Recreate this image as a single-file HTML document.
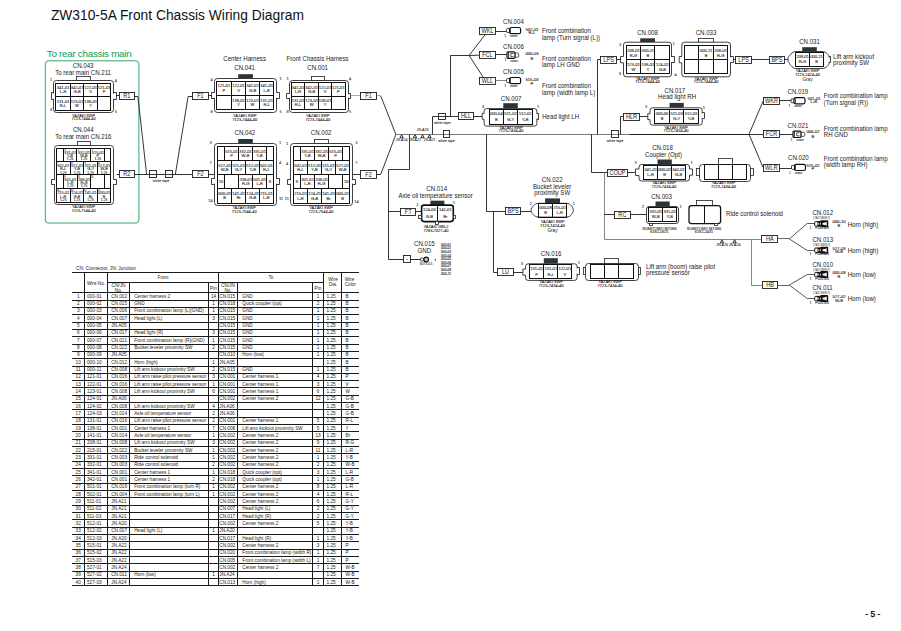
<!DOCTYPE html><html><head><meta charset="utf-8"><style>html,body{margin:0;padding:0;background:#fff;}svg{display:block;}</style></head><body>
<svg width="901" height="631" viewBox="0 0 901 631" font-family='"Liberation Sans", sans-serif'>
<rect width="901" height="631" fill="#fff"/>
<text x="50.90" y="19.90" font-size="13.8" text-anchor="start" fill="#111" >ZW310-5A Front Chassis Wiring Diagram</text>
<text x="46.80" y="57.00" font-size="9.9" text-anchor="start" fill="#109a56" letter-spacing="-0.3">To rear chassis main</text>
<rect x="45.3" y="60.8" width="93.6" height="162.2" rx="3" fill="none" stroke="#3aa56a" stroke-width="1"/>
<text x="83.10" y="67.70" font-size="6.83" text-anchor="middle" fill="#1a1a1a"  textLength="20.68" lengthAdjust="spacingAndGlyphs">CN.043</text>
<text x="83.10" y="74.70" font-size="6.83" text-anchor="middle" fill="#1a1a1a"  textLength="55.82" lengthAdjust="spacingAndGlyphs">To rear main CN.211</text>
<rect x="76.50" y="76.50" width="14.00" height="4.00" rx="0" fill="#fff" stroke="#222" stroke-width="0.8"/>
<rect x="53.50" y="80.50" width="60.00" height="32.00" rx="3" fill="#fff" stroke="#2a2a2a" stroke-width="0.9"/>
<rect x="52.80" y="93.60" width="1.80" height="5.20" fill="#fff"/>
<polyline points="53.70,92.50 51.50,92.50 51.50,99.50 53.70,99.50" fill="none" stroke="#2a2a2a" stroke-width="0.9"/>
<rect x="112.60" y="93.60" width="1.80" height="5.20" fill="#fff"/>
<polyline points="113.50,92.50 116.50,92.50 116.50,99.50 113.50,99.50" fill="none" stroke="#2a2a2a" stroke-width="0.9"/>
<rect x="55.50" y="83.50" width="55.00" height="27.00" fill="none" stroke="#111" stroke-width="1.0"/>
<line x1="70.50" y1="83.20" x2="70.50" y2="96.30" stroke="#111" stroke-width="1.0"/>
<line x1="83.50" y1="83.20" x2="83.50" y2="96.30" stroke="#111" stroke-width="1.0"/>
<line x1="97.50" y1="83.20" x2="97.50" y2="96.30" stroke="#111" stroke-width="1.0"/>
<line x1="55.50" y1="96.50" x2="110.50" y2="96.50" stroke="#111" stroke-width="1.0"/>
<line x1="70.50" y1="96.30" x2="70.50" y2="110.20" stroke="#111" stroke-width="1.0"/>
<line x1="83.50" y1="96.30" x2="83.50" y2="110.20" stroke="#111" stroke-width="1.0"/>
<line x1="97.50" y1="96.30" x2="97.50" y2="110.20" stroke="#111" stroke-width="1.0"/>
<text x="63.10" y="89.09" font-size="4.1" text-anchor="middle" fill="#1c1818" stroke="#1c1818" stroke-width="0.082" >341-01</text>
<text x="63.10" y="92.84" font-size="4.1" text-anchor="middle" fill="#1c1818" stroke="#1c1818" stroke-width="0.082" >L-R</text>
<text x="77.05" y="89.09" font-size="4.1" text-anchor="middle" fill="#1c1818" stroke="#1c1818" stroke-width="0.082" >342-01</text>
<text x="77.05" y="92.84" font-size="4.1" text-anchor="middle" fill="#1c1818" stroke="#1c1818" stroke-width="0.082" >G-B</text>
<text x="90.70" y="89.09" font-size="4.1" text-anchor="middle" fill="#1c1818" stroke="#1c1818" stroke-width="0.082" >122-01</text>
<text x="90.70" y="92.84" font-size="4.1" text-anchor="middle" fill="#1c1818" stroke="#1c1818" stroke-width="0.082" >V</text>
<text x="104.15" y="89.09" font-size="4.1" text-anchor="middle" fill="#1c1818" stroke="#1c1818" stroke-width="0.082" >121-01</text>
<text x="104.15" y="92.84" font-size="4.1" text-anchor="middle" fill="#1c1818" stroke="#1c1818" stroke-width="0.082" >P</text>
<text x="63.10" y="102.56" font-size="4.1" text-anchor="middle" fill="#1c1818" stroke="#1c1818" stroke-width="0.082" >131-01</text>
<text x="63.10" y="106.53" font-size="4.1" text-anchor="middle" fill="#1c1818" stroke="#1c1818" stroke-width="0.082" >R-L</text>
<text x="77.05" y="102.56" font-size="4.1" text-anchor="middle" fill="#1c1818" stroke="#1c1818" stroke-width="0.082" >123-01</text>
<text x="77.05" y="106.53" font-size="4.1" text-anchor="middle" fill="#1c1818" stroke="#1c1818" stroke-width="0.082" >W</text>
<text x="90.70" y="102.56" font-size="4.1" text-anchor="middle" fill="#1c1818" stroke="#1c1818" stroke-width="0.082" >138-01</text>
<text x="90.70" y="106.53" font-size="4.1" text-anchor="middle" fill="#1c1818" stroke="#1c1818" stroke-width="0.082" >Y</text>
<text x="51.00" y="81.00" font-size="4.0" text-anchor="middle" fill="#2a2a4a" stroke="#2a2a4a" stroke-width="0.080" >1</text>
<text x="115.80" y="81.50" font-size="4.0" text-anchor="middle" fill="#2a2a4a" stroke="#2a2a4a" stroke-width="0.080" >4</text>
<text x="51.00" y="111.00" font-size="4.0" text-anchor="middle" fill="#2a2a4a" stroke="#2a2a4a" stroke-width="0.080" >8</text>
<text x="115.80" y="112.50" font-size="4.0" text-anchor="middle" fill="#2a2a4a" stroke="#2a2a4a" stroke-width="0.080" >5</text>
<text x="83.50" y="116.80" font-size="3.8880000000000003" text-anchor="middle" fill="#1e1414" stroke="#1e1414" stroke-width="0.078" >YAZAKI  8WP</text>
<text x="83.50" y="120.20" font-size="3.8880000000000003" text-anchor="middle" fill="#1e1414" stroke="#1e1414" stroke-width="0.078" >7223-7444-40</text>
<text x="83.30" y="131.70" font-size="6.83" text-anchor="middle" fill="#1a1a1a"  textLength="20.68" lengthAdjust="spacingAndGlyphs">CN.044</text>
<text x="83.30" y="138.70" font-size="6.83" text-anchor="middle" fill="#1a1a1a"  textLength="56.28" lengthAdjust="spacingAndGlyphs">To rear main CN.216</text>
<rect x="77.50" y="141.50" width="13.00" height="4.00" rx="0" fill="#fff" stroke="#222" stroke-width="0.8"/>
<rect x="54.50" y="145.50" width="59.00" height="59.00" rx="3" fill="#fff" stroke="#2a2a2a" stroke-width="0.9"/>
<rect x="53.30" y="179.80" width="1.80" height="4.30" fill="#fff"/>
<polyline points="54.20,179.50 51.50,179.50 51.50,184.50 54.20,184.50" fill="none" stroke="#2a2a2a" stroke-width="0.9"/>
<rect x="112.90" y="179.80" width="1.80" height="4.30" fill="#fff"/>
<polyline points="113.80,179.50 116.50,179.50 116.50,184.50 113.80,184.50" fill="none" stroke="#2a2a2a" stroke-width="0.9"/>
<rect x="56.50" y="148.50" width="54.00" height="54.00" fill="none" stroke="#111" stroke-width="1.0"/>
<line x1="63.50" y1="148.00" x2="63.50" y2="161.20" stroke="#111" stroke-width="1.0"/>
<line x1="76.50" y1="148.00" x2="76.50" y2="161.20" stroke="#111" stroke-width="1.0"/>
<line x1="90.50" y1="148.00" x2="90.50" y2="161.20" stroke="#111" stroke-width="1.0"/>
<line x1="104.50" y1="148.00" x2="104.50" y2="161.20" stroke="#111" stroke-width="1.0"/>
<line x1="56.50" y1="161.50" x2="110.50" y2="161.50" stroke="#111" stroke-width="1.0"/>
<line x1="70.50" y1="161.20" x2="70.50" y2="174.70" stroke="#111" stroke-width="1.0"/>
<line x1="83.50" y1="161.20" x2="83.50" y2="174.70" stroke="#111" stroke-width="1.0"/>
<line x1="97.50" y1="161.20" x2="97.50" y2="174.70" stroke="#111" stroke-width="1.0"/>
<line x1="56.50" y1="174.50" x2="110.50" y2="174.50" stroke="#111" stroke-width="1.0"/>
<line x1="63.50" y1="174.70" x2="63.50" y2="188.30" stroke="#111" stroke-width="1.0"/>
<line x1="77.50" y1="174.70" x2="77.50" y2="188.30" stroke="#111" stroke-width="1.0"/>
<line x1="90.50" y1="174.70" x2="90.50" y2="188.30" stroke="#111" stroke-width="1.0"/>
<line x1="104.50" y1="174.70" x2="104.50" y2="188.30" stroke="#111" stroke-width="1.0"/>
<line x1="56.50" y1="188.50" x2="110.50" y2="188.50" stroke="#111" stroke-width="1.0"/>
<line x1="70.50" y1="188.30" x2="70.50" y2="202.00" stroke="#111" stroke-width="1.0"/>
<line x1="83.50" y1="188.30" x2="83.50" y2="202.00" stroke="#111" stroke-width="1.0"/>
<line x1="97.50" y1="188.30" x2="97.50" y2="202.00" stroke="#111" stroke-width="1.0"/>
<text x="64.90" y="150.90" font-size="2.6" text-anchor="middle" fill="#2a2a4a" stroke="#2a2a4a" stroke-width="0.052" >3</text>
<text x="70.15" y="154.00" font-size="3.9" text-anchor="middle" fill="#1c1818" stroke="#1c1818" stroke-width="0.078" >331-01</text>
<text x="70.15" y="157.20" font-size="3.9" text-anchor="middle" fill="#1c1818" stroke="#1c1818" stroke-width="0.078" >Y-B</text>
<text x="70.15" y="160.40" font-size="3.4" text-anchor="middle" fill="#1c1818" stroke="#1c1818" stroke-width="0.068" >1.25</text>
<text x="78.60" y="150.90" font-size="2.6" text-anchor="middle" fill="#2a2a4a" stroke="#2a2a4a" stroke-width="0.052" >2</text>
<text x="83.90" y="154.00" font-size="3.9" text-anchor="middle" fill="#1c1818" stroke="#1c1818" stroke-width="0.078" >332-01</text>
<text x="83.90" y="157.20" font-size="3.9" text-anchor="middle" fill="#1c1818" stroke="#1c1818" stroke-width="0.078" >W-B</text>
<text x="83.90" y="160.40" font-size="3.4" text-anchor="middle" fill="#1c1818" stroke="#1c1818" stroke-width="0.068" >1.25</text>
<text x="92.40" y="150.90" font-size="2.6" text-anchor="middle" fill="#2a2a4a" stroke="#2a2a4a" stroke-width="0.052" >1</text>
<text x="97.90" y="154.00" font-size="3.9" text-anchor="middle" fill="#1c1818" stroke="#1c1818" stroke-width="0.078" >515-01</text>
<text x="97.90" y="157.20" font-size="3.9" text-anchor="middle" fill="#1c1818" stroke="#1c1818" stroke-width="0.078" >P</text>
<text x="97.90" y="160.40" font-size="3.4" text-anchor="middle" fill="#1c1818" stroke="#1c1818" stroke-width="0.068" >1.25</text>
<text x="57.80" y="164.10" font-size="2.6" text-anchor="middle" fill="#2a2a4a" stroke="#2a2a4a" stroke-width="0.052" >7</text>
<text x="63.25" y="167.20" font-size="3.9" text-anchor="middle" fill="#1c1818" stroke="#1c1818" stroke-width="0.078" >502-01</text>
<text x="63.25" y="170.40" font-size="3.9" text-anchor="middle" fill="#1c1818" stroke="#1c1818" stroke-width="0.078" >R-L</text>
<text x="63.25" y="173.60" font-size="3.4" text-anchor="middle" fill="#1c1818" stroke="#1c1818" stroke-width="0.068" >1.25</text>
<text x="71.90" y="164.10" font-size="2.6" text-anchor="middle" fill="#2a2a4a" stroke="#2a2a4a" stroke-width="0.052" >6</text>
<text x="77.00" y="167.20" font-size="3.9" text-anchor="middle" fill="#1c1818" stroke="#1c1818" stroke-width="0.078" >512-01</text>
<text x="77.00" y="170.40" font-size="3.9" text-anchor="middle" fill="#1c1818" stroke="#1c1818" stroke-width="0.078" >Y-B</text>
<text x="77.00" y="173.60" font-size="3.4" text-anchor="middle" fill="#1c1818" stroke="#1c1818" stroke-width="0.068" >1.25</text>
<text x="85.30" y="164.10" font-size="2.6" text-anchor="middle" fill="#2a2a4a" stroke="#2a2a4a" stroke-width="0.052" >5</text>
<text x="90.60" y="167.20" font-size="3.9" text-anchor="middle" fill="#1c1818" stroke="#1c1818" stroke-width="0.078" >511-01</text>
<text x="90.60" y="170.40" font-size="3.9" text-anchor="middle" fill="#1c1818" stroke="#1c1818" stroke-width="0.078" >G-Y</text>
<text x="90.60" y="173.60" font-size="3.4" text-anchor="middle" fill="#1c1818" stroke="#1c1818" stroke-width="0.068" >1.25</text>
<text x="99.10" y="164.10" font-size="2.6" text-anchor="middle" fill="#2a2a4a" stroke="#2a2a4a" stroke-width="0.052" >4</text>
<text x="104.15" y="167.20" font-size="3.9" text-anchor="middle" fill="#1c1818" stroke="#1c1818" stroke-width="0.078" >527-01</text>
<text x="104.15" y="170.40" font-size="3.9" text-anchor="middle" fill="#1c1818" stroke="#1c1818" stroke-width="0.078" >W-B</text>
<text x="104.15" y="173.60" font-size="3.4" text-anchor="middle" fill="#1c1818" stroke="#1c1818" stroke-width="0.068" >1.25</text>
<text x="64.90" y="177.60" font-size="2.6" text-anchor="middle" fill="#2a2a4a" stroke="#2a2a4a" stroke-width="0.052" >9</text>
<text x="70.40" y="180.70" font-size="3.9" text-anchor="middle" fill="#1c1818" stroke="#1c1818" stroke-width="0.078" >501-01</text>
<text x="70.40" y="183.90" font-size="3.9" text-anchor="middle" fill="#1c1818" stroke="#1c1818" stroke-width="0.078" >L-R</text>
<text x="70.40" y="187.10" font-size="3.4" text-anchor="middle" fill="#1c1818" stroke="#1c1818" stroke-width="0.068" >1.25</text>
<text x="79.10" y="177.60" font-size="2.6" text-anchor="middle" fill="#2a2a4a" stroke="#2a2a4a" stroke-width="0.052" >8</text>
<text x="84.00" y="180.70" font-size="3.9" text-anchor="middle" fill="#1c1818" stroke="#1c1818" stroke-width="0.078" >208-01</text>
<text x="84.00" y="183.90" font-size="3.9" text-anchor="middle" fill="#1c1818" stroke="#1c1818" stroke-width="0.078" >R-G</text>
<text x="84.00" y="187.10" font-size="3.4" text-anchor="middle" fill="#1c1818" stroke="#1c1818" stroke-width="0.068" >1.25</text>
<text x="92.10" y="177.60" font-size="2.6" text-anchor="middle" fill="#2a2a4a" stroke="#2a2a4a" stroke-width="0.052" >10</text>
<text x="57.80" y="191.20" font-size="2.6" text-anchor="middle" fill="#2a2a4a" stroke="#2a2a4a" stroke-width="0.052" >14</text>
<text x="63.25" y="194.30" font-size="3.9" text-anchor="middle" fill="#1c1818" stroke="#1c1818" stroke-width="0.078" >215-01</text>
<text x="63.25" y="197.50" font-size="3.9" text-anchor="middle" fill="#1c1818" stroke="#1c1818" stroke-width="0.078" >L-R</text>
<text x="63.25" y="200.70" font-size="3.4" text-anchor="middle" fill="#1c1818" stroke="#1c1818" stroke-width="0.068" >1.25</text>
<text x="71.90" y="191.20" font-size="2.6" text-anchor="middle" fill="#2a2a4a" stroke="#2a2a4a" stroke-width="0.052" >13</text>
<text x="77.00" y="194.30" font-size="3.9" text-anchor="middle" fill="#1c1818" stroke="#1c1818" stroke-width="0.078" >124-01</text>
<text x="77.00" y="197.50" font-size="3.9" text-anchor="middle" fill="#1c1818" stroke="#1c1818" stroke-width="0.078" >G-B</text>
<text x="77.00" y="200.70" font-size="3.4" text-anchor="middle" fill="#1c1818" stroke="#1c1818" stroke-width="0.068" >1.25</text>
<text x="85.30" y="191.20" font-size="2.6" text-anchor="middle" fill="#2a2a4a" stroke="#2a2a4a" stroke-width="0.052" >12</text>
<text x="90.60" y="194.30" font-size="3.9" text-anchor="middle" fill="#1c1818" stroke="#1c1818" stroke-width="0.078" >141-01</text>
<text x="90.60" y="197.50" font-size="3.9" text-anchor="middle" fill="#1c1818" stroke="#1c1818" stroke-width="0.078" >Br</text>
<text x="90.60" y="200.70" font-size="3.4" text-anchor="middle" fill="#1c1818" stroke="#1c1818" stroke-width="0.068" >1.25</text>
<text x="99.10" y="191.20" font-size="2.6" text-anchor="middle" fill="#2a2a4a" stroke="#2a2a4a" stroke-width="0.052" >11</text>
<text x="104.15" y="194.30" font-size="3.9" text-anchor="middle" fill="#1c1818" stroke="#1c1818" stroke-width="0.078" >000-01</text>
<text x="104.15" y="197.50" font-size="3.9" text-anchor="middle" fill="#1c1818" stroke="#1c1818" stroke-width="0.078" >B</text>
<text x="104.15" y="200.70" font-size="3.4" text-anchor="middle" fill="#1c1818" stroke="#1c1818" stroke-width="0.068" >1.25</text>
<text x="83.50" y="208.30" font-size="3.8880000000000003" text-anchor="middle" fill="#1e1414" stroke="#1e1414" stroke-width="0.078" >YAZAKI  8WP</text>
<text x="83.50" y="211.90" font-size="3.8880000000000003" text-anchor="middle" fill="#1e1414" stroke="#1e1414" stroke-width="0.078" >7223-7544-40</text>
<line x1="116.00" y1="95.50" x2="119.10" y2="95.50" stroke="#1e1e1e" stroke-width="0.9"/>
<rect x="119.50" y="92.50" width="15.00" height="7.00" rx="0" fill="#fff" stroke="#1e1e1e" stroke-width="0.9"/>
<text x="126.75" y="97.92" font-size="6.27" text-anchor="middle" fill="#1a1a1a"  textLength="7.16" lengthAdjust="spacingAndGlyphs">R1</text>
<polyline points="134.40,96.50 137.90,96.50 146.60,174.20" fill="none" stroke="#1e1e1e" stroke-width="0.9"/>
<line x1="116.70" y1="174.50" x2="119.10" y2="174.50" stroke="#1e1e1e" stroke-width="0.9"/>
<rect x="119.50" y="170.50" width="15.00" height="7.00" rx="0" fill="#fff" stroke="#1e1e1e" stroke-width="0.9"/>
<text x="126.75" y="176.22" font-size="6.27" text-anchor="middle" fill="#1a1a1a"  textLength="7.16" lengthAdjust="spacingAndGlyphs">R2</text>
<line x1="134.40" y1="174.50" x2="192.30" y2="174.50" stroke="#1e1e1e" stroke-width="0.9"/>
<rect x="149.50" y="170.50" width="7.00" height="7.00" rx="0" fill="none" stroke="#1e1e1e" stroke-width="0.9"/>
<rect x="165.50" y="170.50" width="7.00" height="7.00" rx="0" fill="none" stroke="#1e1e1e" stroke-width="0.9"/>
<text x="161.00" y="182.20" font-size="3.6" text-anchor="middle" fill="#222" stroke="#222" stroke-width="0.072" >white tape</text>
<polyline points="175.40,174.20 188.10,96.50 192.30,96.50" fill="none" stroke="#1e1e1e" stroke-width="0.9"/>
<rect x="192.50" y="92.50" width="16.00" height="7.00" rx="0" fill="#fff" stroke="#1e1e1e" stroke-width="0.9"/>
<text x="200.40" y="97.92" font-size="6.27" text-anchor="middle" fill="#1a1a1a"  textLength="6.53" lengthAdjust="spacingAndGlyphs">F1</text>
<rect x="192.50" y="170.50" width="16.00" height="7.00" rx="0" fill="#fff" stroke="#1e1e1e" stroke-width="0.9"/>
<text x="200.40" y="176.22" font-size="6.27" text-anchor="middle" fill="#1a1a1a"  textLength="6.53" lengthAdjust="spacingAndGlyphs">F2</text>
<line x1="208.50" y1="95.50" x2="211.70" y2="95.50" stroke="#1e1e1e" stroke-width="0.9"/>
<line x1="208.50" y1="174.50" x2="214.30" y2="174.50" stroke="#1e1e1e" stroke-width="0.9"/>
<text x="244.60" y="60.80" font-size="6.83" text-anchor="middle" fill="#1a1a1a"  textLength="42.72" lengthAdjust="spacingAndGlyphs">Center Harness</text>
<text x="244.60" y="69.80" font-size="6.83" text-anchor="middle" fill="#1a1a1a"  textLength="20.68" lengthAdjust="spacingAndGlyphs">CN.041</text>
<rect x="238.20" y="74.20" width="14.70" height="4.10" fill="#2b3535"/>
<rect x="214.50" y="78.50" width="62.00" height="34.00" rx="3" fill="#fff" stroke="#2a2a2a" stroke-width="0.9"/>
<rect x="213.20" y="92.80" width="1.80" height="5.00" fill="#fff"/>
<polyline points="214.10,92.50 211.50,92.50 211.50,98.50 214.10,98.50" fill="none" stroke="#2a2a2a" stroke-width="0.9"/>
<rect x="276.00" y="92.80" width="1.80" height="5.00" fill="#fff"/>
<polyline points="276.90,92.50 279.50,92.50 279.50,98.50 276.90,98.50" fill="none" stroke="#2a2a2a" stroke-width="0.9"/>
<rect x="216.50" y="81.50" width="57.00" height="28.00" fill="none" stroke="#111" stroke-width="1.0"/>
<line x1="231.50" y1="81.10" x2="231.50" y2="95.30" stroke="#111" stroke-width="1.0"/>
<line x1="245.50" y1="81.10" x2="245.50" y2="95.30" stroke="#111" stroke-width="1.0"/>
<line x1="259.50" y1="81.10" x2="259.50" y2="95.30" stroke="#111" stroke-width="1.0"/>
<line x1="216.50" y1="95.50" x2="273.50" y2="95.50" stroke="#111" stroke-width="1.0"/>
<line x1="231.50" y1="95.30" x2="231.50" y2="109.50" stroke="#111" stroke-width="1.0"/>
<line x1="245.50" y1="95.30" x2="245.50" y2="109.50" stroke="#111" stroke-width="1.0"/>
<line x1="259.50" y1="95.30" x2="259.50" y2="109.50" stroke="#111" stroke-width="1.0"/>
<text x="223.80" y="87.49" font-size="4.1" text-anchor="middle" fill="#1c1818" stroke="#1c1818" stroke-width="0.082" >121-01</text>
<text x="223.80" y="91.55" font-size="4.1" text-anchor="middle" fill="#1c1818" stroke="#1c1818" stroke-width="0.082" >P</text>
<text x="238.50" y="87.49" font-size="4.1" text-anchor="middle" fill="#1c1818" stroke="#1c1818" stroke-width="0.082" >122-01</text>
<text x="238.50" y="91.55" font-size="4.1" text-anchor="middle" fill="#1c1818" stroke="#1c1818" stroke-width="0.082" >V</text>
<text x="252.55" y="87.49" font-size="4.1" text-anchor="middle" fill="#1c1818" stroke="#1c1818" stroke-width="0.082" >342-01</text>
<text x="252.55" y="91.55" font-size="4.1" text-anchor="middle" fill="#1c1818" stroke="#1c1818" stroke-width="0.082" >G-B</text>
<text x="266.70" y="87.49" font-size="4.1" text-anchor="middle" fill="#1c1818" stroke="#1c1818" stroke-width="0.082" >341-01</text>
<text x="266.70" y="91.55" font-size="4.1" text-anchor="middle" fill="#1c1818" stroke="#1c1818" stroke-width="0.082" >L-R</text>
<text x="238.50" y="101.69" font-size="4.1" text-anchor="middle" fill="#1c1818" stroke="#1c1818" stroke-width="0.082" >138-01</text>
<text x="238.50" y="105.75" font-size="4.1" text-anchor="middle" fill="#1c1818" stroke="#1c1818" stroke-width="0.082" >Y</text>
<text x="252.55" y="101.69" font-size="4.1" text-anchor="middle" fill="#1c1818" stroke="#1c1818" stroke-width="0.082" >123-01</text>
<text x="252.55" y="105.75" font-size="4.1" text-anchor="middle" fill="#1c1818" stroke="#1c1818" stroke-width="0.082" >W</text>
<text x="266.70" y="101.69" font-size="4.1" text-anchor="middle" fill="#1c1818" stroke="#1c1818" stroke-width="0.082" >131-01</text>
<text x="266.70" y="105.75" font-size="4.1" text-anchor="middle" fill="#1c1818" stroke="#1c1818" stroke-width="0.082" >R-L</text>
<text x="211.50" y="80.50" font-size="4.0" text-anchor="middle" fill="#2a2a4a" stroke="#2a2a4a" stroke-width="0.080" >4</text>
<text x="280.50" y="79.50" font-size="4.0" text-anchor="middle" fill="#2a2a4a" stroke="#2a2a4a" stroke-width="0.080" >1</text>
<text x="211.50" y="112.50" font-size="4.0" text-anchor="middle" fill="#2a2a4a" stroke="#2a2a4a" stroke-width="0.080" >8</text>
<text x="280.50" y="112.50" font-size="4.0" text-anchor="middle" fill="#2a2a4a" stroke="#2a2a4a" stroke-width="0.080" >5</text>
<text x="244.80" y="117.40" font-size="3.9960000000000004" text-anchor="middle" fill="#1e1414" stroke="#1e1414" stroke-width="0.080" >YAZAKI  8WP</text>
<text x="244.80" y="121.20" font-size="3.9960000000000004" text-anchor="middle" fill="#1e1414" stroke="#1e1414" stroke-width="0.080" >7123-7444-40</text>
<text x="317.60" y="60.80" font-size="6.83" text-anchor="middle" fill="#1a1a1a"  textLength="62.03" lengthAdjust="spacingAndGlyphs">Front Chassis Harness</text>
<text x="317.60" y="69.80" font-size="6.83" text-anchor="middle" fill="#1a1a1a"  textLength="20.68" lengthAdjust="spacingAndGlyphs">CN.001</text>
<rect x="311.50" y="76.50" width="13.00" height="4.00" rx="0" fill="#fff" stroke="#222" stroke-width="0.8"/>
<rect x="289.50" y="80.50" width="59.00" height="32.00" rx="3" fill="#fff" stroke="#2a2a2a" stroke-width="0.9"/>
<rect x="288.20" y="93.90" width="1.80" height="3.90" fill="#fff"/>
<polyline points="289.10,93.50 286.50,93.50 286.50,98.50 289.10,98.50" fill="none" stroke="#2a2a2a" stroke-width="0.9"/>
<rect x="347.10" y="93.90" width="1.80" height="3.90" fill="#fff"/>
<polyline points="348.00,93.50 350.50,93.50 350.50,98.50 348.00,98.50" fill="none" stroke="#2a2a2a" stroke-width="0.9"/>
<rect x="291.50" y="82.50" width="54.00" height="27.00" fill="none" stroke="#111" stroke-width="1.0"/>
<line x1="304.50" y1="82.40" x2="304.50" y2="96.30" stroke="#111" stroke-width="1.0"/>
<line x1="318.50" y1="82.40" x2="318.50" y2="96.30" stroke="#111" stroke-width="1.0"/>
<line x1="331.50" y1="82.40" x2="331.50" y2="96.30" stroke="#111" stroke-width="1.0"/>
<line x1="291.50" y1="96.50" x2="345.50" y2="96.50" stroke="#111" stroke-width="1.0"/>
<line x1="304.50" y1="96.30" x2="304.50" y2="109.50" stroke="#111" stroke-width="1.0"/>
<line x1="318.50" y1="96.30" x2="318.50" y2="109.50" stroke="#111" stroke-width="1.0"/>
<line x1="331.50" y1="96.30" x2="331.50" y2="109.50" stroke="#111" stroke-width="1.0"/>
<text x="298.00" y="88.66" font-size="4.1" text-anchor="middle" fill="#1c1818" stroke="#1c1818" stroke-width="0.082" >341-01</text>
<text x="298.00" y="92.63" font-size="4.1" text-anchor="middle" fill="#1c1818" stroke="#1c1818" stroke-width="0.082" >L-R</text>
<text x="311.65" y="88.66" font-size="4.1" text-anchor="middle" fill="#1c1818" stroke="#1c1818" stroke-width="0.082" >342-01</text>
<text x="311.65" y="92.63" font-size="4.1" text-anchor="middle" fill="#1c1818" stroke="#1c1818" stroke-width="0.082" >G-B</text>
<text x="325.05" y="88.66" font-size="4.1" text-anchor="middle" fill="#1c1818" stroke="#1c1818" stroke-width="0.082" >122-01</text>
<text x="325.05" y="92.63" font-size="4.1" text-anchor="middle" fill="#1c1818" stroke="#1c1818" stroke-width="0.082" >V</text>
<text x="338.30" y="88.66" font-size="4.1" text-anchor="middle" fill="#1c1818" stroke="#1c1818" stroke-width="0.082" >121-01</text>
<text x="338.30" y="92.63" font-size="4.1" text-anchor="middle" fill="#1c1818" stroke="#1c1818" stroke-width="0.082" >P</text>
<text x="298.00" y="102.24" font-size="4.1" text-anchor="middle" fill="#1c1818" stroke="#1c1818" stroke-width="0.082" >131-01</text>
<text x="298.00" y="106.01" font-size="4.1" text-anchor="middle" fill="#1c1818" stroke="#1c1818" stroke-width="0.082" >R-L</text>
<text x="311.65" y="102.24" font-size="4.1" text-anchor="middle" fill="#1c1818" stroke="#1c1818" stroke-width="0.082" >123-01</text>
<text x="311.65" y="106.01" font-size="4.1" text-anchor="middle" fill="#1c1818" stroke="#1c1818" stroke-width="0.082" >W</text>
<text x="325.05" y="102.24" font-size="4.1" text-anchor="middle" fill="#1c1818" stroke="#1c1818" stroke-width="0.082" >138-01</text>
<text x="325.05" y="106.01" font-size="4.1" text-anchor="middle" fill="#1c1818" stroke="#1c1818" stroke-width="0.082" >Y</text>
<text x="287.50" y="79.50" font-size="4.0" text-anchor="middle" fill="#2a2a4a" stroke="#2a2a4a" stroke-width="0.080" >1</text>
<text x="350.00" y="80.00" font-size="4.0" text-anchor="middle" fill="#2a2a4a" stroke="#2a2a4a" stroke-width="0.080" >4</text>
<text x="287.50" y="113.00" font-size="4.0" text-anchor="middle" fill="#2a2a4a" stroke="#2a2a4a" stroke-width="0.080" >8</text>
<text x="350.00" y="113.00" font-size="4.0" text-anchor="middle" fill="#2a2a4a" stroke="#2a2a4a" stroke-width="0.080" >5</text>
<text x="317.80" y="117.40" font-size="3.9960000000000004" text-anchor="middle" fill="#1e1414" stroke="#1e1414" stroke-width="0.080" >YAZAKI  8WP</text>
<text x="317.80" y="121.20" font-size="3.9960000000000004" text-anchor="middle" fill="#1e1414" stroke="#1e1414" stroke-width="0.080" >7223-7444-40</text>
<text x="244.90" y="134.70" font-size="6.83" text-anchor="middle" fill="#1a1a1a"  textLength="20.68" lengthAdjust="spacingAndGlyphs">CN.042</text>
<rect x="238.20" y="139.00" width="14.60" height="4.30" fill="#2b3535"/>
<rect x="214.50" y="143.50" width="62.00" height="62.00" rx="3" fill="#fff" stroke="#2a2a2a" stroke-width="0.9"/>
<rect x="213.40" y="179.10" width="1.80" height="4.50" fill="#fff"/>
<polyline points="214.30,178.50 211.50,178.50 211.50,184.50 214.30,184.50" fill="none" stroke="#2a2a2a" stroke-width="0.9"/>
<rect x="276.10" y="179.10" width="1.80" height="4.50" fill="#fff"/>
<polyline points="277.00,178.50 279.50,178.50 279.50,184.50 277.00,184.50" fill="none" stroke="#2a2a2a" stroke-width="0.9"/>
<rect x="217.50" y="146.50" width="56.00" height="57.00" fill="none" stroke="#111" stroke-width="1.0"/>
<line x1="224.50" y1="146.40" x2="224.50" y2="160.40" stroke="#111" stroke-width="1.0"/>
<line x1="238.50" y1="146.40" x2="238.50" y2="160.40" stroke="#111" stroke-width="1.0"/>
<line x1="252.50" y1="146.40" x2="252.50" y2="160.40" stroke="#111" stroke-width="1.0"/>
<line x1="266.50" y1="146.40" x2="266.50" y2="160.40" stroke="#111" stroke-width="1.0"/>
<line x1="217.50" y1="160.50" x2="273.50" y2="160.50" stroke="#111" stroke-width="1.0"/>
<line x1="231.50" y1="160.40" x2="231.50" y2="174.20" stroke="#111" stroke-width="1.0"/>
<line x1="245.50" y1="160.40" x2="245.50" y2="174.20" stroke="#111" stroke-width="1.0"/>
<line x1="259.50" y1="160.40" x2="259.50" y2="174.20" stroke="#111" stroke-width="1.0"/>
<line x1="217.50" y1="174.50" x2="273.50" y2="174.50" stroke="#111" stroke-width="1.0"/>
<line x1="224.50" y1="174.20" x2="224.50" y2="188.50" stroke="#111" stroke-width="1.0"/>
<line x1="238.50" y1="174.20" x2="238.50" y2="188.50" stroke="#111" stroke-width="1.0"/>
<line x1="252.50" y1="174.20" x2="252.50" y2="188.50" stroke="#111" stroke-width="1.0"/>
<line x1="266.50" y1="174.20" x2="266.50" y2="188.50" stroke="#111" stroke-width="1.0"/>
<line x1="217.50" y1="188.50" x2="273.50" y2="188.50" stroke="#111" stroke-width="1.0"/>
<line x1="231.50" y1="188.50" x2="231.50" y2="203.20" stroke="#111" stroke-width="1.0"/>
<line x1="245.50" y1="188.50" x2="245.50" y2="203.20" stroke="#111" stroke-width="1.0"/>
<line x1="259.50" y1="188.50" x2="259.50" y2="203.20" stroke="#111" stroke-width="1.0"/>
<text x="231.50" y="152.70" font-size="4.1" text-anchor="middle" fill="#1c1818" stroke="#1c1818" stroke-width="0.082" >515-01</text>
<text x="231.50" y="156.70" font-size="4.1" text-anchor="middle" fill="#1c1818" stroke="#1c1818" stroke-width="0.082" >P</text>
<text x="245.50" y="152.70" font-size="4.1" text-anchor="middle" fill="#1c1818" stroke="#1c1818" stroke-width="0.082" >332-01</text>
<text x="245.50" y="156.70" font-size="4.1" text-anchor="middle" fill="#1c1818" stroke="#1c1818" stroke-width="0.082" >W-B</text>
<text x="259.55" y="152.70" font-size="4.1" text-anchor="middle" fill="#1c1818" stroke="#1c1818" stroke-width="0.082" >331-01</text>
<text x="259.55" y="156.70" font-size="4.1" text-anchor="middle" fill="#1c1818" stroke="#1c1818" stroke-width="0.082" >Y-B</text>
<text x="224.65" y="166.61" font-size="4.1" text-anchor="middle" fill="#1c1818" stroke="#1c1818" stroke-width="0.082" >527-01</text>
<text x="224.65" y="170.55" font-size="4.1" text-anchor="middle" fill="#1c1818" stroke="#1c1818" stroke-width="0.082" >W-B</text>
<text x="238.70" y="166.61" font-size="4.1" text-anchor="middle" fill="#1c1818" stroke="#1c1818" stroke-width="0.082" >511-01</text>
<text x="238.70" y="170.55" font-size="4.1" text-anchor="middle" fill="#1c1818" stroke="#1c1818" stroke-width="0.082" >G-Y</text>
<text x="252.65" y="166.61" font-size="4.1" text-anchor="middle" fill="#1c1818" stroke="#1c1818" stroke-width="0.082" >512-01</text>
<text x="252.65" y="170.55" font-size="4.1" text-anchor="middle" fill="#1c1818" stroke="#1c1818" stroke-width="0.082" >Y-B</text>
<text x="266.40" y="166.61" font-size="4.1" text-anchor="middle" fill="#1c1818" stroke="#1c1818" stroke-width="0.082" >502-01</text>
<text x="266.40" y="170.55" font-size="4.1" text-anchor="middle" fill="#1c1818" stroke="#1c1818" stroke-width="0.082" >R-L</text>
<text x="221.05" y="182.78" font-size="4.1" text-anchor="middle" fill="#1c1818" stroke="#1c1818" stroke-width="0.082" >10</text>
<text x="245.80" y="180.63" font-size="4.1" text-anchor="middle" fill="#1c1818" stroke="#1c1818" stroke-width="0.082" >208-01</text>
<text x="245.80" y="184.72" font-size="4.1" text-anchor="middle" fill="#1c1818" stroke="#1c1818" stroke-width="0.082" >R-G</text>
<text x="259.70" y="180.63" font-size="4.1" text-anchor="middle" fill="#1c1818" stroke="#1c1818" stroke-width="0.082" >501-01</text>
<text x="259.70" y="184.72" font-size="4.1" text-anchor="middle" fill="#1c1818" stroke="#1c1818" stroke-width="0.082" >L-R</text>
<text x="269.90" y="182.78" font-size="4.1" text-anchor="middle" fill="#1c1818" stroke="#1c1818" stroke-width="0.082" >8</text>
<text x="224.65" y="195.12" font-size="4.1" text-anchor="middle" fill="#1c1818" stroke="#1c1818" stroke-width="0.082" >000-01</text>
<text x="224.65" y="199.31" font-size="4.1" text-anchor="middle" fill="#1c1818" stroke="#1c1818" stroke-width="0.082" >B</text>
<text x="238.70" y="195.12" font-size="4.1" text-anchor="middle" fill="#1c1818" stroke="#1c1818" stroke-width="0.082" >141-01</text>
<text x="238.70" y="199.31" font-size="4.1" text-anchor="middle" fill="#1c1818" stroke="#1c1818" stroke-width="0.082" >Br</text>
<text x="252.65" y="195.12" font-size="4.1" text-anchor="middle" fill="#1c1818" stroke="#1c1818" stroke-width="0.082" >124-01</text>
<text x="252.65" y="199.31" font-size="4.1" text-anchor="middle" fill="#1c1818" stroke="#1c1818" stroke-width="0.082" >G-B</text>
<text x="266.40" y="195.12" font-size="4.1" text-anchor="middle" fill="#1c1818" stroke="#1c1818" stroke-width="0.082" >215-01</text>
<text x="266.40" y="199.31" font-size="4.1" text-anchor="middle" fill="#1c1818" stroke="#1c1818" stroke-width="0.082" >L-R</text>
<text x="210.70" y="144.00" font-size="4.0" text-anchor="middle" fill="#2a2a4a" stroke="#2a2a4a" stroke-width="0.080" >3</text>
<text x="280.00" y="144.00" font-size="4.0" text-anchor="middle" fill="#2a2a4a" stroke="#2a2a4a" stroke-width="0.080" >1</text>
<text x="210.70" y="164.00" font-size="4.0" text-anchor="middle" fill="#2a2a4a" stroke="#2a2a4a" stroke-width="0.080" >7</text>
<text x="280.00" y="164.00" font-size="4.0" text-anchor="middle" fill="#2a2a4a" stroke="#2a2a4a" stroke-width="0.080" >4</text>
<text x="210.40" y="202.00" font-size="4.0" text-anchor="middle" fill="#2a2a4a" stroke="#2a2a4a" stroke-width="0.080" >14</text>
<text x="281.00" y="199.50" font-size="4.0" text-anchor="middle" fill="#2a2a4a" stroke="#2a2a4a" stroke-width="0.080" >11</text>
<text x="244.20" y="208.90" font-size="3.9960000000000004" text-anchor="middle" fill="#1e1414" stroke="#1e1414" stroke-width="0.080" >YAZAKI  8WP</text>
<text x="244.20" y="212.70" font-size="3.9960000000000004" text-anchor="middle" fill="#1e1414" stroke="#1e1414" stroke-width="0.080" >7123-7544-40</text>
<text x="321.10" y="134.70" font-size="6.83" text-anchor="middle" fill="#1a1a1a"  textLength="20.68" lengthAdjust="spacingAndGlyphs">CN.002</text>
<rect x="314.50" y="139.50" width="14.00" height="4.00" rx="0" fill="#fff" stroke="#222" stroke-width="0.8"/>
<rect x="290.50" y="143.50" width="62.00" height="62.00" rx="3" fill="#fff" stroke="#2a2a2a" stroke-width="0.9"/>
<rect x="289.40" y="180.20" width="1.80" height="3.40" fill="#fff"/>
<polyline points="290.30,179.50 287.50,179.50 287.50,184.50 290.30,184.50" fill="none" stroke="#2a2a2a" stroke-width="0.9"/>
<rect x="351.60" y="180.20" width="1.80" height="3.40" fill="#fff"/>
<polyline points="352.50,179.50 355.50,179.50 355.50,184.50 352.50,184.50" fill="none" stroke="#2a2a2a" stroke-width="0.9"/>
<rect x="293.50" y="146.50" width="56.00" height="57.00" fill="none" stroke="#111" stroke-width="1.0"/>
<line x1="300.50" y1="146.40" x2="300.50" y2="160.40" stroke="#111" stroke-width="1.0"/>
<line x1="314.50" y1="146.40" x2="314.50" y2="160.40" stroke="#111" stroke-width="1.0"/>
<line x1="328.50" y1="146.40" x2="328.50" y2="160.40" stroke="#111" stroke-width="1.0"/>
<line x1="342.50" y1="146.40" x2="342.50" y2="160.40" stroke="#111" stroke-width="1.0"/>
<line x1="293.50" y1="160.50" x2="349.50" y2="160.50" stroke="#111" stroke-width="1.0"/>
<line x1="307.50" y1="160.40" x2="307.50" y2="174.20" stroke="#111" stroke-width="1.0"/>
<line x1="321.50" y1="160.40" x2="321.50" y2="174.20" stroke="#111" stroke-width="1.0"/>
<line x1="335.50" y1="160.40" x2="335.50" y2="174.20" stroke="#111" stroke-width="1.0"/>
<line x1="293.50" y1="174.50" x2="349.50" y2="174.50" stroke="#111" stroke-width="1.0"/>
<line x1="300.50" y1="174.20" x2="300.50" y2="188.90" stroke="#111" stroke-width="1.0"/>
<line x1="314.50" y1="174.20" x2="314.50" y2="188.90" stroke="#111" stroke-width="1.0"/>
<line x1="328.50" y1="174.20" x2="328.50" y2="188.90" stroke="#111" stroke-width="1.0"/>
<line x1="342.50" y1="174.20" x2="342.50" y2="188.90" stroke="#111" stroke-width="1.0"/>
<line x1="293.50" y1="188.50" x2="349.50" y2="188.50" stroke="#111" stroke-width="1.0"/>
<line x1="307.50" y1="188.90" x2="307.50" y2="203.50" stroke="#111" stroke-width="1.0"/>
<line x1="321.50" y1="188.90" x2="321.50" y2="203.50" stroke="#111" stroke-width="1.0"/>
<line x1="335.50" y1="188.90" x2="335.50" y2="203.50" stroke="#111" stroke-width="1.0"/>
<text x="307.55" y="152.70" font-size="4.1" text-anchor="middle" fill="#1c1818" stroke="#1c1818" stroke-width="0.082" >331-01</text>
<text x="307.55" y="156.70" font-size="4.1" text-anchor="middle" fill="#1c1818" stroke="#1c1818" stroke-width="0.082" >Y-B</text>
<text x="321.60" y="152.70" font-size="4.1" text-anchor="middle" fill="#1c1818" stroke="#1c1818" stroke-width="0.082" >332-01</text>
<text x="321.60" y="156.70" font-size="4.1" text-anchor="middle" fill="#1c1818" stroke="#1c1818" stroke-width="0.082" >W-B</text>
<text x="335.65" y="152.70" font-size="4.1" text-anchor="middle" fill="#1c1818" stroke="#1c1818" stroke-width="0.082" >515-01</text>
<text x="335.65" y="156.70" font-size="4.1" text-anchor="middle" fill="#1c1818" stroke="#1c1818" stroke-width="0.082" >P</text>
<text x="300.55" y="166.61" font-size="4.1" text-anchor="middle" fill="#1c1818" stroke="#1c1818" stroke-width="0.082" >502-01</text>
<text x="300.55" y="170.55" font-size="4.1" text-anchor="middle" fill="#1c1818" stroke="#1c1818" stroke-width="0.082" >R-L</text>
<text x="314.60" y="166.61" font-size="4.1" text-anchor="middle" fill="#1c1818" stroke="#1c1818" stroke-width="0.082" >512-01</text>
<text x="314.60" y="170.55" font-size="4.1" text-anchor="middle" fill="#1c1818" stroke="#1c1818" stroke-width="0.082" >Y-B</text>
<text x="328.65" y="166.61" font-size="4.1" text-anchor="middle" fill="#1c1818" stroke="#1c1818" stroke-width="0.082" >511-01</text>
<text x="328.65" y="170.55" font-size="4.1" text-anchor="middle" fill="#1c1818" stroke="#1c1818" stroke-width="0.082" >G-Y</text>
<text x="342.60" y="166.61" font-size="4.1" text-anchor="middle" fill="#1c1818" stroke="#1c1818" stroke-width="0.082" >527-01</text>
<text x="342.60" y="170.55" font-size="4.1" text-anchor="middle" fill="#1c1818" stroke="#1c1818" stroke-width="0.082" >W-B</text>
<text x="297.00" y="182.99" font-size="4.1" text-anchor="middle" fill="#1c1818" stroke="#1c1818" stroke-width="0.082" >8</text>
<text x="307.55" y="180.81" font-size="4.1" text-anchor="middle" fill="#1c1818" stroke="#1c1818" stroke-width="0.082" >301-01</text>
<text x="307.55" y="185.02" font-size="4.1" text-anchor="middle" fill="#1c1818" stroke="#1c1818" stroke-width="0.082" >L-R</text>
<text x="321.60" y="180.81" font-size="4.1" text-anchor="middle" fill="#1c1818" stroke="#1c1818" stroke-width="0.082" >208-01</text>
<text x="321.60" y="185.02" font-size="4.1" text-anchor="middle" fill="#1c1818" stroke="#1c1818" stroke-width="0.082" >R-G</text>
<text x="346.20" y="182.99" font-size="4.1" text-anchor="middle" fill="#1c1818" stroke="#1c1818" stroke-width="0.082" >10</text>
<text x="300.55" y="195.47" font-size="4.1" text-anchor="middle" fill="#1c1818" stroke="#1c1818" stroke-width="0.082" >215-01</text>
<text x="300.55" y="199.64" font-size="4.1" text-anchor="middle" fill="#1c1818" stroke="#1c1818" stroke-width="0.082" >L-R</text>
<text x="314.60" y="195.47" font-size="4.1" text-anchor="middle" fill="#1c1818" stroke="#1c1818" stroke-width="0.082" >124-01</text>
<text x="314.60" y="199.64" font-size="4.1" text-anchor="middle" fill="#1c1818" stroke="#1c1818" stroke-width="0.082" >G-B</text>
<text x="328.65" y="195.47" font-size="4.1" text-anchor="middle" fill="#1c1818" stroke="#1c1818" stroke-width="0.082" >141-01</text>
<text x="328.65" y="199.64" font-size="4.1" text-anchor="middle" fill="#1c1818" stroke="#1c1818" stroke-width="0.082" >Br</text>
<text x="342.60" y="195.47" font-size="4.1" text-anchor="middle" fill="#1c1818" stroke="#1c1818" stroke-width="0.082" >000-01</text>
<text x="342.60" y="199.64" font-size="4.1" text-anchor="middle" fill="#1c1818" stroke="#1c1818" stroke-width="0.082" >B</text>
<text x="287.10" y="144.50" font-size="4.0" text-anchor="middle" fill="#2a2a4a" stroke="#2a2a4a" stroke-width="0.080" >1</text>
<text x="356.30" y="144.00" font-size="4.0" text-anchor="middle" fill="#2a2a4a" stroke="#2a2a4a" stroke-width="0.080" >3</text>
<text x="287.10" y="164.50" font-size="4.0" text-anchor="middle" fill="#2a2a4a" stroke="#2a2a4a" stroke-width="0.080" >4</text>
<text x="356.30" y="164.00" font-size="4.0" text-anchor="middle" fill="#2a2a4a" stroke="#2a2a4a" stroke-width="0.080" >7</text>
<text x="286.80" y="199.50" font-size="4.0" text-anchor="middle" fill="#2a2a4a" stroke="#2a2a4a" stroke-width="0.080" >11</text>
<text x="356.50" y="202.50" font-size="4.0" text-anchor="middle" fill="#2a2a4a" stroke="#2a2a4a" stroke-width="0.080" >14</text>
<text x="321.00" y="209.20" font-size="3.9960000000000004" text-anchor="middle" fill="#1e1414" stroke="#1e1414" stroke-width="0.080" >YAZAKI  8WP</text>
<text x="321.00" y="213.00" font-size="3.9960000000000004" text-anchor="middle" fill="#1e1414" stroke="#1e1414" stroke-width="0.080" >7223-7544-40</text>
<line x1="352.50" y1="174.50" x2="360.30" y2="174.50" stroke="#1e1e1e" stroke-width="0.9"/>
<line x1="350.90" y1="95.50" x2="360.30" y2="95.50" stroke="#a8a8a8" stroke-width="1.0"/>
<line x1="376.70" y1="95.50" x2="380.70" y2="95.50" stroke="#a8a8a8" stroke-width="1.0"/>
<line x1="380.70" y1="95.90" x2="395.90" y2="134.40" stroke="#1e1e1e" stroke-width="0.9"/>
<polyline points="376.70,174.50 380.70,174.50 395.90,134.40" fill="none" stroke="#1e1e1e" stroke-width="0.9"/>
<rect x="360.50" y="92.50" width="16.00" height="7.00" rx="0" fill="#fff" stroke="#1e1e1e" stroke-width="0.9"/>
<text x="368.50" y="97.87" font-size="6.27" text-anchor="middle" fill="#1a1a1a"  textLength="6.53" lengthAdjust="spacingAndGlyphs">F1</text>
<rect x="360.50" y="170.50" width="16.00" height="8.00" rx="0" fill="#fff" stroke="#1e1e1e" stroke-width="0.9"/>
<text x="368.50" y="176.52" font-size="6.27" text-anchor="middle" fill="#1a1a1a"  textLength="6.53" lengthAdjust="spacingAndGlyphs">F2</text>
<line x1="395.90" y1="134.50" x2="629.50" y2="134.50" stroke="#7c7c7c" stroke-width="1.0"/>
<line x1="629.50" y1="134.50" x2="749.00" y2="134.50" stroke="#1e1e1e" stroke-width="1.0"/>
<path d="M399.90,137.80 L401.60,134.80 L403.30,137.80 Z" fill="#fff" stroke="#1a1a1a" stroke-width="0.9"/>
<text x="401.60" y="141.40" font-size="3.6" text-anchor="middle" fill="#2a1f1f" stroke="#2a1f1f" stroke-width="0.072" >JN.A24</text>
<path d="M413.30,137.80 L415.00,134.80 L416.70,137.80 Z" fill="#fff" stroke="#1a1a1a" stroke-width="0.9"/>
<text x="415.00" y="141.40" font-size="3.6" text-anchor="middle" fill="#2a1f1f" stroke="#2a1f1f" stroke-width="0.072" >JN.A22</text>
<path d="M420.80,137.80 L422.50,134.80 L424.20,137.80 Z" fill="#fff" stroke="#1a1a1a" stroke-width="0.9"/>
<path d="M427.80,137.80 L429.50,134.80 L431.20,137.80 Z" fill="#fff" stroke="#1a1a1a" stroke-width="0.9"/>
<text x="429.50" y="141.40" font-size="3.6" text-anchor="middle" fill="#2a1f1f" stroke="#2a1f1f" stroke-width="0.072" >JN.A21</text>
<text x="422.50" y="130.80" font-size="3.6" text-anchor="middle" fill="#2a1f1f" stroke="#2a1f1f" stroke-width="0.072" >JN.A20</text>
<rect x="443.50" y="130.50" width="6.00" height="7.00" rx="0" fill="none" stroke="#1e1e1e" stroke-width="0.9"/>
<text x="446.50" y="141.60" font-size="3.6" text-anchor="middle" fill="#222" stroke="#222" stroke-width="0.072" >white tape</text>
<polyline points="409.50,134.40 409.50,169.50 388.50,169.50 388.50,259.50 403.30,259.50" fill="none" stroke="#1e1e1e" stroke-width="0.9"/>
<line x1="388.40" y1="211.50" x2="400.70" y2="211.50" stroke="#1e1e1e" stroke-width="0.9"/>
<polyline points="432.50,134.40 432.50,116.50 458.30,116.50" fill="none" stroke="#1e1e1e" stroke-width="0.9"/>
<rect x="438.50" y="113.50" width="7.00" height="6.00" rx="0" fill="none" stroke="#1e1e1e" stroke-width="0.9"/>
<text x="442.20" y="123.60" font-size="3.6" text-anchor="middle" fill="#222" stroke="#222" stroke-width="0.072" >white tape</text>
<polyline points="450.50,116.30 450.50,55.50 469.10,55.50" fill="none" stroke="#1e1e1e" stroke-width="0.9"/>
<line x1="469.10" y1="55.50" x2="485.00" y2="34.80" stroke="#1e1e1e" stroke-width="0.9"/>
<line x1="469.10" y1="55.50" x2="479.40" y2="55.20" stroke="#1e1e1e" stroke-width="0.9"/>
<line x1="469.10" y1="55.50" x2="483.30" y2="77.40" stroke="#1e1e1e" stroke-width="0.9"/>
<rect x="479.50" y="27.50" width="16.00" height="7.00" rx="0" fill="#fff" stroke="#1e1e1e" stroke-width="0.9"/>
<text x="487.45" y="33.12" font-size="6.27" text-anchor="middle" fill="#1a1a1a"  textLength="12.14" lengthAdjust="spacingAndGlyphs">WKL</text>
<rect x="479.50" y="51.50" width="16.00" height="7.00" rx="0" fill="#fff" stroke="#1e1e1e" stroke-width="0.9"/>
<text x="487.45" y="56.97" font-size="6.27" text-anchor="middle" fill="#1a1a1a"  textLength="10.58" lengthAdjust="spacingAndGlyphs">FCL</text>
<rect x="479.50" y="77.50" width="16.00" height="7.00" rx="0" fill="#fff" stroke="#1e1e1e" stroke-width="0.9"/>
<text x="487.45" y="82.92" font-size="6.27" text-anchor="middle" fill="#1a1a1a"  textLength="11.51" lengthAdjust="spacingAndGlyphs">WLL</text>
<line x1="495.50" y1="31.50" x2="506.60" y2="31.50" stroke="#1e1e1e" stroke-width="0.9"/>
<line x1="495.50" y1="54.50" x2="507.00" y2="54.50" stroke="#1e1e1e" stroke-width="0.9"/>
<line x1="495.50" y1="80.50" x2="506.60" y2="80.50" stroke="#777" stroke-width="0.9"/>
<text x="503.10" y="23.70" font-size="6.83" text-anchor="start" fill="#1a1a1a"  textLength="20.68" lengthAdjust="spacingAndGlyphs">CN.004</text>
<rect x="506.60" y="28.60" width="3.2" height="4.0" rx="0.8" fill="#fff" stroke="#111" stroke-width="0.8"/>
<rect x="509.60" y="27.50" width="11.0" height="6.2" rx="1.8" fill="#fff" stroke="#111" stroke-width="1.2"/>
<line x1="510.50" y1="28.00" x2="510.50" y2="33.20" stroke="#111" stroke-width="0.7"/>
<text x="505.10" y="36.90" font-size="3.4" text-anchor="middle" fill="#2a2a4a" stroke="#2a2a4a" stroke-width="0.068" >1</text>
<text x="513.60" y="37.20" font-size="2.9" text-anchor="middle" fill="#222" stroke="#222" stroke-width="0.058" >usasn</text>
<text x="503.10" y="48.90" font-size="6.83" text-anchor="start" fill="#1a1a1a"  textLength="20.68" lengthAdjust="spacingAndGlyphs">CN.006</text>
<rect x="514.80" y="53.00" width="3.9" height="4.2" rx="1.2" fill="#fff" stroke="#111" stroke-width="0.7"/>
<rect x="507.00" y="51.90" width="8.0" height="6.4" rx="1.0" fill="#fff" stroke="#111" stroke-width="1.2"/>
<line x1="508.50" y1="52.30" x2="508.50" y2="57.90" stroke="#111" stroke-width="0.8"/>
<path d="M513.60,53.50 H510.80 V56.70 H513.60" fill="none" stroke="#111" stroke-width="0.7"/>
<text x="505.50" y="61.40" font-size="3.4" text-anchor="middle" fill="#2a2a4a" stroke="#2a2a4a" stroke-width="0.068" >1</text>
<text x="514.00" y="61.70" font-size="2.9" text-anchor="middle" fill="#222" stroke="#222" stroke-width="0.058" >usasn</text>
<text x="503.10" y="73.60" font-size="6.83" text-anchor="start" fill="#1a1a1a"  textLength="20.68" lengthAdjust="spacingAndGlyphs">CN.005</text>
<rect x="506.60" y="78.60" width="3.2" height="4.0" rx="0.8" fill="#fff" stroke="#111" stroke-width="0.8"/>
<rect x="509.60" y="77.50" width="11.0" height="6.2" rx="1.8" fill="#fff" stroke="#111" stroke-width="1.2"/>
<line x1="510.50" y1="78.00" x2="510.50" y2="83.20" stroke="#111" stroke-width="0.7"/>
<text x="505.10" y="86.90" font-size="3.4" text-anchor="middle" fill="#2a2a4a" stroke="#2a2a4a" stroke-width="0.068" >1</text>
<text x="513.60" y="87.20" font-size="2.9" text-anchor="middle" fill="#222" stroke="#222" stroke-width="0.058" >usasn</text>
<text x="532.00" y="31.20" font-size="4.266000000000001" text-anchor="middle" fill="#1e1414" stroke="#1e1414" stroke-width="0.085" >502-01</text>
<text x="532.00" y="34.40" font-size="4.266000000000001" text-anchor="middle" fill="#1e1414" stroke="#1e1414" stroke-width="0.085" >R-L</text>
<text x="532.00" y="55.00" font-size="4.266000000000001" text-anchor="middle" fill="#1e1414" stroke="#1e1414" stroke-width="0.085" >000-03</text>
<text x="532.00" y="59.50" font-size="4.266000000000001" text-anchor="middle" fill="#1e1414" stroke="#1e1414" stroke-width="0.085" >B</text>
<text x="532.00" y="80.80" font-size="4.266000000000001" text-anchor="middle" fill="#1e1414" stroke="#1e1414" stroke-width="0.085" >515-03</text>
<text x="532.00" y="85.20" font-size="4.266000000000001" text-anchor="middle" fill="#1e1414" stroke="#1e1414" stroke-width="0.085" >P</text>
<text x="542.00" y="32.90" font-size="6.83" text-anchor="start" fill="#1a1a1a"  textLength="48.82" lengthAdjust="spacingAndGlyphs">Front combination</text>
<text x="542.00" y="39.90" font-size="6.83" text-anchor="start" fill="#1a1a1a"  textLength="58.07" lengthAdjust="spacingAndGlyphs">lamp (Turn signal (L))</text>
<text x="542.00" y="60.80" font-size="6.83" text-anchor="start" fill="#1a1a1a"  textLength="48.82" lengthAdjust="spacingAndGlyphs">Front combination</text>
<text x="542.00" y="66.90" font-size="6.83" text-anchor="start" fill="#1a1a1a"  textLength="37.96" lengthAdjust="spacingAndGlyphs">lamp LH GND</text>
<text x="542.00" y="87.80" font-size="6.83" text-anchor="start" fill="#1a1a1a"  textLength="48.82" lengthAdjust="spacingAndGlyphs">Front combination</text>
<text x="542.00" y="94.50" font-size="6.83" text-anchor="start" fill="#1a1a1a"  textLength="53.22" lengthAdjust="spacingAndGlyphs">lamp (width lamp L)</text>
<rect x="458.50" y="112.50" width="15.00" height="7.00" rx="0" fill="#fff" stroke="#1e1e1e" stroke-width="0.9"/>
<text x="466.05" y="118.12" font-size="6.27" text-anchor="middle" fill="#1a1a1a"  textLength="10.27" lengthAdjust="spacingAndGlyphs">HLL</text>
<line x1="473.80" y1="116.50" x2="482.20" y2="116.50" stroke="#1e1e1e" stroke-width="0.9"/>
<text x="511.10" y="101.00" font-size="6.83" text-anchor="middle" fill="#1a1a1a"  textLength="20.68" lengthAdjust="spacingAndGlyphs">CN.007</text>
<rect x="503.30" y="103.20" width="14.50" height="5.40" fill="#2b3535"/>
<path d="M486.6,108.6 H534.4 Q536.9,108.6 536.9,111.1 V123.6 Q536.9,126.1 534.4,126.1 H486.6 Q484.1,126.1 484.1,123.6 V119.2 H482.2 V113.4 H484.1 V111.1 Q484.1,108.6 486.6,108.6 Z" fill="#fff" stroke="#2a2a2a" stroke-width="0.9"/>
<rect x="536.00" y="113.80" width="1.80" height="4.80" fill="#fff"/>
<polyline points="536.90,113.50 538.50,113.50 538.50,119.50 536.90,119.50" fill="none" stroke="#2a2a2a" stroke-width="0.9"/>
<rect x="489.50" y="109.50" width="43.00" height="15.00" fill="none" stroke="#111" stroke-width="1.0"/>
<line x1="503.50" y1="109.60" x2="503.50" y2="124.40" stroke="#111" stroke-width="1.0"/>
<line x1="517.50" y1="109.60" x2="517.50" y2="124.40" stroke="#111" stroke-width="1.0"/>
<text x="496.30" y="115.20" font-size="4.1" text-anchor="middle" fill="#1c1818" stroke="#1c1818" stroke-width="0.082" >000-04</text>
<text x="496.30" y="121.02" font-size="4.1" text-anchor="middle" fill="#1c1818" stroke="#1c1818" stroke-width="0.082" >B</text>
<text x="510.55" y="115.20" font-size="4.1" text-anchor="middle" fill="#1c1818" stroke="#1c1818" stroke-width="0.082" >511-02</text>
<text x="510.55" y="121.02" font-size="4.1" text-anchor="middle" fill="#1c1818" stroke="#1c1818" stroke-width="0.082" >G-Y</text>
<text x="525.25" y="115.20" font-size="4.1" text-anchor="middle" fill="#1c1818" stroke="#1c1818" stroke-width="0.082" >512-02</text>
<text x="525.25" y="121.02" font-size="4.1" text-anchor="middle" fill="#1c1818" stroke="#1c1818" stroke-width="0.082" >Y-B</text>
<text x="483.20" y="108.20" font-size="4.0" text-anchor="middle" fill="#2a2a4a" stroke="#2a2a4a" stroke-width="0.080" >3</text>
<text x="538.20" y="107.80" font-size="4.0" text-anchor="middle" fill="#2a2a4a" stroke="#2a2a4a" stroke-width="0.080" >1</text>
<text x="511.00" y="128.60" font-size="3.9960000000000004" text-anchor="middle" fill="#1e1414" stroke="#1e1414" stroke-width="0.080" >YAZAKI  8WP</text>
<text x="511.00" y="132.40" font-size="3.9960000000000004" text-anchor="middle" fill="#1e1414" stroke="#1e1414" stroke-width="0.080" >7123-7434-40</text>
<text x="542.20" y="119.30" font-size="6.83" text-anchor="start" fill="#1a1a1a"  textLength="36.96" lengthAdjust="spacingAndGlyphs">Head light LH</text>
<polyline points="597.50,134.40 597.50,59.50 600.50,59.50" fill="none" stroke="#1e1e1e" stroke-width="0.9"/>
<rect x="600.50" y="56.50" width="16.00" height="7.00" rx="0" fill="#fff" stroke="#1e1e1e" stroke-width="0.9"/>
<text x="608.65" y="62.02" font-size="6.27" text-anchor="middle" fill="#1a1a1a"  textLength="10.58" lengthAdjust="spacingAndGlyphs">LPS</text>
<line x1="616.80" y1="59.50" x2="620.50" y2="59.50" stroke="#1e1e1e" stroke-width="0.9"/>
<text x="647.50" y="34.80" font-size="6.83" text-anchor="middle" fill="#1a1a1a"  textLength="20.68" lengthAdjust="spacingAndGlyphs">CN.008</text>
<rect x="640.20" y="38.30" width="14.80" height="3.90" fill="#2b3535"/>
<path d="M626.3,42.2 H668.7 Q671.5,42.2 671.5,45 V74 Q671.5,76.8 668.7,76.8 H626.3 Q623.5,76.8 623.5,74 V62.8 H620.5 V56.5 H623.5 V45 Q623.5,42.2 626.3,42.2 Z" fill="#fff" stroke="#2a2a2a" stroke-width="0.9"/>
<rect x="670.60" y="57.10" width="1.80" height="5.10" fill="#fff"/>
<polyline points="671.50,56.50 674.50,56.50 674.50,62.50 671.50,62.50" fill="none" stroke="#2a2a2a" stroke-width="0.9"/>
<rect x="626.50" y="45.50" width="43.00" height="28.00" fill="none" stroke="#111" stroke-width="1.0"/>
<line x1="640.50" y1="45.50" x2="640.50" y2="59.50" stroke="#111" stroke-width="1.0"/>
<line x1="654.50" y1="45.50" x2="654.50" y2="59.50" stroke="#111" stroke-width="1.0"/>
<line x1="626.50" y1="59.50" x2="669.50" y2="59.50" stroke="#111" stroke-width="1.0"/>
<line x1="640.50" y1="59.50" x2="640.50" y2="73.70" stroke="#111" stroke-width="1.0"/>
<line x1="654.50" y1="59.50" x2="654.50" y2="73.70" stroke="#111" stroke-width="1.0"/>
<text x="633.45" y="51.90" font-size="4.1" text-anchor="middle" fill="#1c1818" stroke="#1c1818" stroke-width="0.082" >208-01</text>
<text x="633.45" y="56.50" font-size="4.1" text-anchor="middle" fill="#1c1818" stroke="#1c1818" stroke-width="0.082" >R-G</text>
<text x="647.85" y="51.90" font-size="4.1" text-anchor="middle" fill="#1c1818" stroke="#1c1818" stroke-width="0.082" >000-11</text>
<text x="647.85" y="56.50" font-size="4.1" text-anchor="middle" fill="#1c1818" stroke="#1c1818" stroke-width="0.082" >B</text>
<text x="633.45" y="65.99" font-size="4.1" text-anchor="middle" fill="#1c1818" stroke="#1c1818" stroke-width="0.082" >123-01</text>
<text x="633.45" y="70.66" font-size="4.1" text-anchor="middle" fill="#1c1818" stroke="#1c1818" stroke-width="0.082" >W</text>
<text x="647.85" y="65.99" font-size="4.1" text-anchor="middle" fill="#1c1818" stroke="#1c1818" stroke-width="0.082" >138-01</text>
<text x="647.85" y="70.66" font-size="4.1" text-anchor="middle" fill="#1c1818" stroke="#1c1818" stroke-width="0.082" >Y</text>
<text x="662.40" y="65.99" font-size="4.1" text-anchor="middle" fill="#1c1818" stroke="#1c1818" stroke-width="0.082" >124-02</text>
<text x="662.40" y="70.66" font-size="4.1" text-anchor="middle" fill="#1c1818" stroke="#1c1818" stroke-width="0.082" >G-B</text>
<text x="620.00" y="46.00" font-size="4.0" text-anchor="middle" fill="#2a2a4a" stroke="#2a2a4a" stroke-width="0.080" >3</text>
<text x="673.50" y="44.50" font-size="4.0" text-anchor="middle" fill="#2a2a4a" stroke="#2a2a4a" stroke-width="0.080" >1</text>
<text x="620.00" y="75.00" font-size="4.0" text-anchor="middle" fill="#2a2a4a" stroke="#2a2a4a" stroke-width="0.080" >6</text>
<text x="675.50" y="76.00" font-size="4.0" text-anchor="middle" fill="#2a2a4a" stroke="#2a2a4a" stroke-width="0.080" >4</text>
<text x="647.50" y="80.20" font-size="3.9960000000000004" text-anchor="middle" fill="#1e1414" stroke="#1e1414" stroke-width="0.080" >YAZAKI  8WP</text>
<text x="647.50" y="83.20" font-size="3.9960000000000004" text-anchor="middle" fill="#1e1414" stroke="#1e1414" stroke-width="0.080" >7123-7444-40</text>
<text x="706.00" y="34.80" font-size="6.83" text-anchor="middle" fill="#1a1a1a"  textLength="20.68" lengthAdjust="spacingAndGlyphs">CN.033</text>
<rect x="698.50" y="38.50" width="15.00" height="4.00" rx="0" fill="#fff" stroke="#222" stroke-width="0.8"/>
<path d="M684.6,42.2 H727.7 Q730.5,42.2 730.5,45 V74 Q730.5,76.8 727.7,76.8 H684.6 Q681.8,76.8 681.8,74 V62.8 H679.2 V56.5 H681.8 V45 Q681.8,42.2 684.6,42.2 Z" fill="#fff" stroke="#2a2a2a" stroke-width="0.9"/>
<rect x="729.60" y="57.10" width="1.80" height="5.10" fill="#fff"/>
<polyline points="730.50,56.50 733.50,56.50 733.50,62.50 730.50,62.50" fill="none" stroke="#2a2a2a" stroke-width="0.9"/>
<rect x="684.50" y="45.50" width="43.00" height="28.00" fill="none" stroke="#111" stroke-width="1.0"/>
<line x1="698.50" y1="45.50" x2="698.50" y2="59.50" stroke="#111" stroke-width="1.0"/>
<line x1="713.50" y1="45.50" x2="713.50" y2="59.50" stroke="#111" stroke-width="1.0"/>
<line x1="684.50" y1="59.50" x2="727.50" y2="59.50" stroke="#111" stroke-width="1.0"/>
<line x1="698.50" y1="59.50" x2="698.50" y2="73.70" stroke="#111" stroke-width="1.0"/>
<line x1="713.50" y1="59.50" x2="713.50" y2="73.70" stroke="#111" stroke-width="1.0"/>
<text x="706.00" y="51.90" font-size="4.1" text-anchor="middle" fill="#1c1818" stroke="#1c1818" stroke-width="0.082" >000-11</text>
<text x="706.00" y="56.50" font-size="4.1" text-anchor="middle" fill="#1c1818" stroke="#1c1818" stroke-width="0.082" >B</text>
<text x="720.65" y="51.90" font-size="4.1" text-anchor="middle" fill="#1c1818" stroke="#1c1818" stroke-width="0.082" >208-01</text>
<text x="720.65" y="56.50" font-size="4.1" text-anchor="middle" fill="#1c1818" stroke="#1c1818" stroke-width="0.082" >R-G</text>
<text x="706.00" y="80.20" font-size="3.9960000000000004" text-anchor="middle" fill="#1e1414" stroke="#1e1414" stroke-width="0.080" >YAZAKI  8WP</text>
<text x="706.00" y="83.20" font-size="3.9960000000000004" text-anchor="middle" fill="#1e1414" stroke="#1e1414" stroke-width="0.080" >7223-7444-40</text>
<line x1="733.50" y1="59.50" x2="735.50" y2="59.50" stroke="#1e1e1e" stroke-width="0.9"/>
<rect x="735.50" y="56.50" width="16.00" height="7.00" rx="0" fill="#fff" stroke="#1e1e1e" stroke-width="0.9"/>
<text x="743.65" y="62.02" font-size="6.27" text-anchor="middle" fill="#1a1a1a"  textLength="10.58" lengthAdjust="spacingAndGlyphs">LPS</text>
<line x1="751.80" y1="59.50" x2="769.50" y2="59.50" stroke="#1e1e1e" stroke-width="0.9"/>
<rect x="769.50" y="56.50" width="15.00" height="7.00" rx="0" fill="#fff" stroke="#1e1e1e" stroke-width="0.9"/>
<text x="777.00" y="62.02" font-size="6.27" text-anchor="middle" fill="#1a1a1a"  textLength="11.21" lengthAdjust="spacingAndGlyphs">BPS</text>
<line x1="784.50" y1="59.50" x2="788.00" y2="59.50" stroke="#1e1e1e" stroke-width="0.9"/>
<text x="809.50" y="43.50" font-size="6.83" text-anchor="middle" fill="#1a1a1a"  textLength="20.68" lengthAdjust="spacingAndGlyphs">CN.031</text>
<rect x="802.20" y="47.20" width="14.60" height="4.30" fill="#2b3535"/>
<path d="M795.5,51.5 H822 C826.5,51.5 829,55 829,57 V63 C829,65 826.5,68.5 822,68.5 H795.5 C792,68.5 789.5,63 788,61.5 V57.5 C789.5,56 792,51.5 795.5,51.5 Z" fill="#fff" stroke="#2a2a2a" stroke-width="0.9"/>
<rect x="828.10" y="57.60" width="1.80" height="4.80" fill="#fff"/>
<polyline points="829.00,56.50 830.50,56.50 830.50,62.50 829.00,62.50" fill="none" stroke="#2a2a2a" stroke-width="0.9"/>
<rect x="795.50" y="52.50" width="28.00" height="14.00" fill="none" stroke="#111" stroke-width="1.0"/>
<line x1="809.50" y1="52.50" x2="809.50" y2="66.00" stroke="#111" stroke-width="1.0"/>
<text x="802.50" y="57.61" font-size="4.1" text-anchor="middle" fill="#1c1818" stroke="#1c1818" stroke-width="0.082" >208-01</text>
<text x="802.50" y="62.91" font-size="4.1" text-anchor="middle" fill="#1c1818" stroke="#1c1818" stroke-width="0.082" >R-G</text>
<text x="816.50" y="57.61" font-size="4.1" text-anchor="middle" fill="#1c1818" stroke="#1c1818" stroke-width="0.082" >000-11</text>
<text x="816.50" y="62.91" font-size="4.1" text-anchor="middle" fill="#1c1818" stroke="#1c1818" stroke-width="0.082" >B</text>
<text x="807.50" y="71.60" font-size="3.9960000000000004" text-anchor="middle" fill="#1e1414" stroke="#1e1414" stroke-width="0.080" >YAZAKI  8WP</text>
<text x="807.50" y="75.50" font-size="3.9960000000000004" text-anchor="middle" fill="#1e1414" stroke="#1e1414" stroke-width="0.080" >7123-1424-40</text>
<text x="807.50" y="80.50" font-size="4.7" text-anchor="middle" fill="#222" >Gray</text>
<text x="833.10" y="58.60" font-size="6.83" text-anchor="start" fill="#1a1a1a"  textLength="41.01" lengthAdjust="spacingAndGlyphs">Lift arm kickout</text>
<text x="833.10" y="64.80" font-size="6.83" text-anchor="start" fill="#1a1a1a"  textLength="35.92" lengthAdjust="spacingAndGlyphs">proximity SW</text>
<rect x="611.50" y="130.50" width="7.00" height="7.00" rx="0" fill="none" stroke="#1e1e1e" stroke-width="0.9"/>
<text x="615.00" y="141.60" font-size="3.6" text-anchor="middle" fill="#222" stroke="#222" stroke-width="0.072" >white tape</text>
<polyline points="620.50,134.40 620.50,116.50 623.80,116.50" fill="none" stroke="#1e1e1e" stroke-width="0.9"/>
<rect x="623.50" y="113.50" width="16.00" height="7.00" rx="0" fill="#fff" stroke="#1e1e1e" stroke-width="0.9"/>
<text x="631.55" y="118.87" font-size="6.27" text-anchor="middle" fill="#1a1a1a"  textLength="11.20" lengthAdjust="spacingAndGlyphs">HLR</text>
<line x1="639.30" y1="116.50" x2="647.80" y2="116.50" stroke="#1e1e1e" stroke-width="0.9"/>
<text x="674.90" y="92.70" font-size="6.83" text-anchor="middle" fill="#1a1a1a"  textLength="20.68" lengthAdjust="spacingAndGlyphs">CN.017</text>
<text x="677.10" y="99.30" font-size="6.83" text-anchor="middle" fill="#1a1a1a"  textLength="37.97" lengthAdjust="spacingAndGlyphs">Head light RH</text>
<rect x="669.60" y="102.90" width="14.20" height="4.90" fill="#2b3535"/>
<path d="M652.5,107.8 H699.7 Q702.2,107.8 702.2,110.3 V122.6 Q702.2,125.1 699.7,125.1 H652.5 Q650,125.1 650,122.6 V119.6 H647.8 V113.6 H650 V110.3 Q650,107.8 652.5,107.8 Z" fill="#fff" stroke="#2a2a2a" stroke-width="0.9"/>
<rect x="701.30" y="113.30" width="1.80" height="5.00" fill="#fff"/>
<polyline points="702.20,112.50 704.50,112.50 704.50,118.50 702.20,118.50" fill="none" stroke="#2a2a2a" stroke-width="0.9"/>
<rect x="654.50" y="109.50" width="44.00" height="14.00" fill="none" stroke="#111" stroke-width="1.0"/>
<line x1="669.50" y1="109.30" x2="669.50" y2="123.80" stroke="#111" stroke-width="1.0"/>
<line x1="683.50" y1="109.30" x2="683.50" y2="123.80" stroke="#111" stroke-width="1.0"/>
<text x="662.00" y="114.79" font-size="4.1" text-anchor="middle" fill="#1c1818" stroke="#1c1818" stroke-width="0.082" >000-06</text>
<text x="662.00" y="120.49" font-size="4.1" text-anchor="middle" fill="#1c1818" stroke="#1c1818" stroke-width="0.082" >B</text>
<text x="676.70" y="114.79" font-size="4.1" text-anchor="middle" fill="#1c1818" stroke="#1c1818" stroke-width="0.082" >511-03</text>
<text x="676.70" y="120.49" font-size="4.1" text-anchor="middle" fill="#1c1818" stroke="#1c1818" stroke-width="0.082" >G-Y</text>
<text x="691.00" y="114.79" font-size="4.1" text-anchor="middle" fill="#1c1818" stroke="#1c1818" stroke-width="0.082" >512-03</text>
<text x="691.00" y="120.49" font-size="4.1" text-anchor="middle" fill="#1c1818" stroke="#1c1818" stroke-width="0.082" >Y-B</text>
<text x="646.00" y="107.80" font-size="4.0" text-anchor="middle" fill="#2a2a4a" stroke="#2a2a4a" stroke-width="0.080" >3</text>
<text x="703.80" y="108.50" font-size="4.0" text-anchor="middle" fill="#2a2a4a" stroke="#2a2a4a" stroke-width="0.080" >1</text>
<text x="676.00" y="128.60" font-size="3.9960000000000004" text-anchor="middle" fill="#1e1414" stroke="#1e1414" stroke-width="0.080" >YAZAKI  8WP</text>
<text x="676.00" y="132.10" font-size="3.9960000000000004" text-anchor="middle" fill="#1e1414" stroke="#1e1414" stroke-width="0.080" >7123-7434-40</text>
<line x1="749.00" y1="134.20" x2="763.20" y2="101.00" stroke="#1e1e1e" stroke-width="0.9"/>
<line x1="749.00" y1="134.50" x2="763.20" y2="134.50" stroke="#1e1e1e" stroke-width="0.9"/>
<line x1="749.00" y1="134.20" x2="763.10" y2="167.60" stroke="#1e1e1e" stroke-width="0.9"/>
<rect x="763.50" y="97.50" width="16.00" height="7.00" rx="0" fill="#fff" stroke="#1e1e1e" stroke-width="0.9"/>
<text x="771.50" y="103.02" font-size="6.27" text-anchor="middle" fill="#1a1a1a"  textLength="13.07" lengthAdjust="spacingAndGlyphs">WKR</text>
<rect x="763.50" y="130.50" width="16.00" height="7.00" rx="0" fill="#fff" stroke="#1e1e1e" stroke-width="0.9"/>
<text x="771.50" y="136.02" font-size="6.27" text-anchor="middle" fill="#1a1a1a"  textLength="11.51" lengthAdjust="spacingAndGlyphs">FCR</text>
<rect x="763.50" y="164.50" width="16.00" height="7.00" rx="0" fill="#fff" stroke="#1e1e1e" stroke-width="0.9"/>
<text x="771.30" y="169.97" font-size="6.27" text-anchor="middle" fill="#1a1a1a"  textLength="12.44" lengthAdjust="spacingAndGlyphs">WLR</text>
<line x1="779.80" y1="100.50" x2="791.00" y2="100.50" stroke="#1e1e1e" stroke-width="0.9"/>
<line x1="779.80" y1="134.50" x2="793.00" y2="134.50" stroke="#1e1e1e" stroke-width="0.9"/>
<line x1="779.40" y1="168.50" x2="791.50" y2="168.50" stroke="#1e1e1e" stroke-width="0.9"/>
<text x="787.50" y="93.80" font-size="6.83" text-anchor="start" fill="#1a1a1a"  textLength="20.68" lengthAdjust="spacingAndGlyphs">CN.019</text>
<rect x="791.00" y="98.80" width="3.2" height="4.0" rx="0.8" fill="#fff" stroke="#111" stroke-width="0.8"/>
<rect x="794.00" y="97.70" width="11.0" height="6.2" rx="1.8" fill="#fff" stroke="#111" stroke-width="1.2"/>
<line x1="795.50" y1="98.20" x2="795.50" y2="103.40" stroke="#111" stroke-width="0.7"/>
<text x="789.50" y="107.10" font-size="3.4" text-anchor="middle" fill="#2a2a4a" stroke="#2a2a4a" stroke-width="0.068" >1</text>
<text x="798.00" y="107.40" font-size="2.9" text-anchor="middle" fill="#222" stroke="#222" stroke-width="0.058" >usasn</text>
<text x="787.60" y="127.80" font-size="6.83" text-anchor="start" fill="#1a1a1a"  textLength="20.68" lengthAdjust="spacingAndGlyphs">CN.021</text>
<rect x="800.80" y="132.20" width="3.9" height="4.2" rx="1.2" fill="#fff" stroke="#111" stroke-width="0.7"/>
<rect x="793.00" y="131.10" width="8.0" height="6.4" rx="1.0" fill="#fff" stroke="#111" stroke-width="1.2"/>
<line x1="794.50" y1="131.50" x2="794.50" y2="137.10" stroke="#111" stroke-width="0.8"/>
<path d="M799.60,132.70 H796.80 V135.90 H799.60" fill="none" stroke="#111" stroke-width="0.7"/>
<text x="791.50" y="140.60" font-size="3.4" text-anchor="middle" fill="#2a2a4a" stroke="#2a2a4a" stroke-width="0.068" >1</text>
<text x="800.00" y="140.90" font-size="2.9" text-anchor="middle" fill="#222" stroke="#222" stroke-width="0.058" >usasn</text>
<text x="788.00" y="159.60" font-size="6.83" text-anchor="start" fill="#1a1a1a"  textLength="20.68" lengthAdjust="spacingAndGlyphs">CN.020</text>
<rect x="791.50" y="165.40" width="3.2" height="4.0" rx="0.8" fill="#fff" stroke="#111" stroke-width="0.8"/>
<rect x="794.50" y="164.30" width="11.0" height="6.2" rx="1.8" fill="#fff" stroke="#111" stroke-width="1.2"/>
<line x1="795.50" y1="164.80" x2="795.50" y2="170.00" stroke="#111" stroke-width="0.7"/>
<text x="790.00" y="173.70" font-size="3.4" text-anchor="middle" fill="#2a2a4a" stroke="#2a2a4a" stroke-width="0.068" >1</text>
<text x="798.50" y="174.00" font-size="2.9" text-anchor="middle" fill="#222" stroke="#222" stroke-width="0.058" >usasn</text>
<text x="814.00" y="99.80" font-size="4.266000000000001" text-anchor="middle" fill="#1e1414" stroke="#1e1414" stroke-width="0.085" >501-01</text>
<text x="814.00" y="103.00" font-size="4.266000000000001" text-anchor="middle" fill="#1e1414" stroke="#1e1414" stroke-width="0.085" >L-R</text>
<text x="813.00" y="133.40" font-size="4.266000000000001" text-anchor="middle" fill="#1e1414" stroke="#1e1414" stroke-width="0.085" >000-07</text>
<text x="813.00" y="137.60" font-size="4.266000000000001" text-anchor="middle" fill="#1e1414" stroke="#1e1414" stroke-width="0.085" >B</text>
<text x="813.00" y="166.80" font-size="4.266000000000001" text-anchor="middle" fill="#1e1414" stroke="#1e1414" stroke-width="0.085" >515-02</text>
<text x="813.00" y="170.00" font-size="4.266000000000001" text-anchor="middle" fill="#1e1414" stroke="#1e1414" stroke-width="0.085" >P</text>
<text x="823.80" y="98.40" font-size="6.83" text-anchor="start" fill="#1a1a1a"  textLength="63.74" lengthAdjust="spacingAndGlyphs">Front combination lamp</text>
<text x="823.80" y="105.00" font-size="6.83" text-anchor="start" fill="#1a1a1a"  textLength="44.17" lengthAdjust="spacingAndGlyphs">(Turn signal (R))</text>
<text x="823.80" y="130.70" font-size="6.83" text-anchor="start" fill="#1a1a1a"  textLength="63.74" lengthAdjust="spacingAndGlyphs">Front combination lamp</text>
<text x="823.80" y="136.70" font-size="6.83" text-anchor="start" fill="#1a1a1a"  textLength="24.06" lengthAdjust="spacingAndGlyphs">RH GND</text>
<text x="823.80" y="160.50" font-size="6.83" text-anchor="start" fill="#1a1a1a"  textLength="63.74" lengthAdjust="spacingAndGlyphs">Front combination lamp</text>
<text x="823.80" y="166.70" font-size="6.83" text-anchor="start" fill="#1a1a1a"  textLength="43.72" lengthAdjust="spacingAndGlyphs">(width lamp RH)</text>
<rect x="400.50" y="208.50" width="15.00" height="7.00" rx="0" fill="#fff" stroke="#1e1e1e" stroke-width="0.9"/>
<text x="408.15" y="213.92" font-size="6.27" text-anchor="middle" fill="#1a1a1a"  textLength="6.84" lengthAdjust="spacingAndGlyphs">FT</text>
<line x1="415.60" y1="211.50" x2="421.60" y2="211.50" stroke="#1e1e1e" stroke-width="0.9"/>
<text x="436.70" y="191.10" font-size="6.83" text-anchor="middle" fill="#1a1a1a"  textLength="20.68" lengthAdjust="spacingAndGlyphs">CN.014</text>
<text x="435.60" y="197.80" font-size="6.83" text-anchor="middle" fill="#1a1a1a"  textLength="74.25" lengthAdjust="spacingAndGlyphs">Axle oil temperature sensor</text>
<rect x="430.40" y="200.70" width="14.00" height="4.40" fill="#2b3535"/>
<rect x="421.6" y="205.1" width="31.7" height="16.5" rx="2.5" fill="#fff" stroke="#111" stroke-width="1.6"/>
<line x1="437.50" y1="205.10" x2="437.50" y2="221.60" stroke="#111" stroke-width="1.0"/>
<rect x="418.50" y="215.50" width="3.00" height="3.00" rx="0" fill="#fff" stroke="#222" stroke-width="0.8"/>
<rect x="453.50" y="215.50" width="2.00" height="3.00" rx="0" fill="#fff" stroke="#222" stroke-width="0.8"/>
<rect x="435.50" y="221.50" width="3.00" height="3.00" rx="0" fill="#fff" stroke="#222" stroke-width="0.8"/>
<text x="429.45" y="211.35" font-size="4.1" text-anchor="middle" fill="#1c1818" stroke="#1c1818" stroke-width="0.082" >124-03</text>
<text x="429.45" y="217.83" font-size="4.1" text-anchor="middle" fill="#1c1818" stroke="#1c1818" stroke-width="0.082" >G-B</text>
<text x="445.30" y="211.35" font-size="4.1" text-anchor="middle" fill="#1c1818" stroke="#1c1818" stroke-width="0.082" >141-01</text>
<text x="445.30" y="217.83" font-size="4.1" text-anchor="middle" fill="#1c1818" stroke="#1c1818" stroke-width="0.082" >Br</text>
<text x="417.30" y="205.50" font-size="4.0" text-anchor="middle" fill="#2a2a4a" stroke="#2a2a4a" stroke-width="0.080" >2</text>
<text x="453.80" y="203.60" font-size="4.0" text-anchor="middle" fill="#2a2a4a" stroke="#2a2a4a" stroke-width="0.080" >1</text>
<text x="436.00" y="228.00" font-size="3.9960000000000004" text-anchor="middle" fill="#1e1414" stroke="#1e1414" stroke-width="0.080" >YAZAKI  090-2</text>
<text x="436.00" y="231.80" font-size="3.9960000000000004" text-anchor="middle" fill="#1e1414" stroke="#1e1414" stroke-width="0.080" >7283-7027-40</text>
<text x="424.40" y="246.00" font-size="6.83" text-anchor="middle" fill="#1a1a1a"  textLength="20.68" lengthAdjust="spacingAndGlyphs">CN.015</text>
<text x="424.40" y="252.70" font-size="6.83" text-anchor="middle" fill="#1a1a1a"  textLength="13.56" lengthAdjust="spacingAndGlyphs">GND</text>
<rect x="403.50" y="255.50" width="7.00" height="7.00" rx="0" fill="#fff" stroke="#1e1e1e" stroke-width="0.9"/>
<text x="407.00" y="261.27" font-size="6.27" text-anchor="middle" fill="#1a1a1a"  textLength="1.86" lengthAdjust="spacingAndGlyphs">-</text>
<line x1="410.70" y1="259.50" x2="420.50" y2="259.50" stroke="#1e1e1e" stroke-width="0.9"/>
<rect x="420.5" y="258.0" width="3.2" height="3.0" rx="1" fill="#fff" stroke="#111" stroke-width="0.8"/>
<circle cx="426.2" cy="259.5" r="2.3" fill="#fff" stroke="#111" stroke-width="1.2"/>
<circle cx="426.2" cy="259.5" r="1.0" fill="none" stroke="#555" stroke-width="0.5"/>
<text x="426.00" y="265.00" font-size="3.0" text-anchor="middle" fill="#222" stroke="#222" stroke-width="0.060" >SUT3.0-5</text>
<circle cx="435.4" cy="259.7" r="0.75" fill="#223"/>
<text x="441.00" y="245.80" font-size="3.1" text-anchor="start" fill="#1a0505" stroke="#1a0505" stroke-width="0.062" textLength="10.2" lengthAdjust="spacingAndGlyphs">000-01</text>
<text x="441.00" y="248.90" font-size="3.1" text-anchor="start" fill="#1a0505" stroke="#1a0505" stroke-width="0.062" textLength="10.2" lengthAdjust="spacingAndGlyphs">000-02</text>
<text x="441.00" y="252.80" font-size="3.1" text-anchor="start" fill="#1a0505" stroke="#1a0505" stroke-width="0.062" textLength="10.2" lengthAdjust="spacingAndGlyphs">000-03</text>
<text x="441.00" y="256.90" font-size="3.1" text-anchor="start" fill="#1a0505" stroke="#1a0505" stroke-width="0.062" textLength="10.2" lengthAdjust="spacingAndGlyphs">000-04</text>
<text x="441.00" y="259.80" font-size="3.1" text-anchor="start" fill="#1a0505" stroke="#1a0505" stroke-width="0.062" textLength="10.2" lengthAdjust="spacingAndGlyphs">000-05</text>
<text x="441.00" y="263.70" font-size="3.1" text-anchor="start" fill="#1a0505" stroke="#1a0505" stroke-width="0.062" textLength="10.2" lengthAdjust="spacingAndGlyphs">000-06</text>
<text x="441.00" y="266.80" font-size="3.1" text-anchor="start" fill="#1a0505" stroke="#1a0505" stroke-width="0.062" textLength="10.2" lengthAdjust="spacingAndGlyphs">000-07</text>
<text x="441.00" y="270.90" font-size="3.1" text-anchor="start" fill="#1a0505" stroke="#1a0505" stroke-width="0.062" textLength="10.2" lengthAdjust="spacingAndGlyphs">000-08</text>
<text x="441.00" y="274.90" font-size="3.1" text-anchor="start" fill="#1a0505" stroke="#1a0505" stroke-width="0.062" textLength="10.2" lengthAdjust="spacingAndGlyphs">000-11</text>
<polyline points="486.50,134.40 486.50,211.50 505.60,211.50" fill="none" stroke="#1e1e1e" stroke-width="0.9"/>
<polyline points="493.50,211.80 493.50,272.50 497.30,272.50" fill="none" stroke="#1e1e1e" stroke-width="0.9"/>
<rect x="505.50" y="207.50" width="15.00" height="7.00" rx="0" fill="#fff" stroke="#1e1e1e" stroke-width="0.9"/>
<text x="513.15" y="213.37" font-size="6.27" text-anchor="middle" fill="#1a1a1a"  textLength="11.21" lengthAdjust="spacingAndGlyphs">BPS</text>
<line x1="520.70" y1="211.50" x2="531.10" y2="211.50" stroke="#1e1e1e" stroke-width="0.9"/>
<text x="552.20" y="181.60" font-size="6.83" text-anchor="middle" fill="#1a1a1a"  textLength="20.68" lengthAdjust="spacingAndGlyphs">CN.022</text>
<text x="552.20" y="188.90" font-size="6.83" text-anchor="middle" fill="#1a1a1a"  textLength="38.31" lengthAdjust="spacingAndGlyphs">Bucket leveler</text>
<text x="552.20" y="194.90" font-size="6.83" text-anchor="middle" fill="#1a1a1a"  textLength="35.92" lengthAdjust="spacingAndGlyphs">proximity SW</text>
<rect x="545.10" y="198.40" width="14.90" height="4.90" fill="#2b3535"/>
<path d="M538.4,203.3 H566.7 C570.5,203.3 573.3,207.5 573.3,210.2 C573.3,213 570.5,217.1 566.7,217.1 H538.4 C534.6,217.1 531.1,213 531.1,210.2 C531.1,207.5 534.6,203.3 538.4,203.3 Z" fill="#fff" stroke="#2a2a2a" stroke-width="0.9"/>
<rect x="538.50" y="203.50" width="28.00" height="14.00" fill="none" stroke="#111" stroke-width="1.0"/>
<line x1="552.50" y1="203.80" x2="552.50" y2="217.10" stroke="#111" stroke-width="1.0"/>
<text x="545.55" y="208.84" font-size="4.1" text-anchor="middle" fill="#1c1818" stroke="#1c1818" stroke-width="0.082" >000-08</text>
<text x="545.55" y="214.06" font-size="4.1" text-anchor="middle" fill="#1c1818" stroke="#1c1818" stroke-width="0.082" >B</text>
<text x="559.70" y="208.84" font-size="4.1" text-anchor="middle" fill="#1c1818" stroke="#1c1818" stroke-width="0.082" >215-01</text>
<text x="559.70" y="214.06" font-size="4.1" text-anchor="middle" fill="#1c1818" stroke="#1c1818" stroke-width="0.082" >L-R</text>
<text x="530.60" y="205.00" font-size="4.0" text-anchor="middle" fill="#2a2a4a" stroke="#2a2a4a" stroke-width="0.080" >2</text>
<text x="573.80" y="205.00" font-size="4.0" text-anchor="middle" fill="#2a2a4a" stroke="#2a2a4a" stroke-width="0.080" >1</text>
<text x="552.50" y="223.00" font-size="3.9960000000000004" text-anchor="middle" fill="#1e1414" stroke="#1e1414" stroke-width="0.080" >YAZAKI  8WP</text>
<text x="552.50" y="227.00" font-size="3.9960000000000004" text-anchor="middle" fill="#1e1414" stroke="#1e1414" stroke-width="0.080" >7123-1424-40</text>
<text x="552.50" y="231.90" font-size="4.7" text-anchor="middle" fill="#222" >Gray</text>
<rect x="497.50" y="268.50" width="16.00" height="7.00" rx="0" fill="#fff" stroke="#1e1e1e" stroke-width="0.9"/>
<text x="505.55" y="274.02" font-size="6.27" text-anchor="middle" fill="#1a1a1a"  textLength="7.16" lengthAdjust="spacingAndGlyphs">LU</text>
<line x1="513.80" y1="272.50" x2="522.90" y2="272.50" stroke="#1e1e1e" stroke-width="0.9"/>
<text x="551.10" y="255.60" font-size="6.83" text-anchor="middle" fill="#1a1a1a"  textLength="20.68" lengthAdjust="spacingAndGlyphs">CN.016</text>
<rect x="543.80" y="258.20" width="14.00" height="5.60" fill="#2b3535"/>
<path d="M528.1,263.8 H574.6 Q577.1,263.8 577.1,266.3 V277.9 Q577.1,280.4 574.6,280.4 H528.1 Q525.6,280.4 525.6,277.9 V275.2 H522.9 V269 H525.6 V266.3 Q525.6,263.8 528.1,263.8 Z" fill="#fff" stroke="#2a2a2a" stroke-width="0.9"/>
<rect x="576.20" y="268.40" width="1.80" height="5.40" fill="#fff"/>
<polyline points="577.10,267.50 579.50,267.50 579.50,274.50 577.10,274.50" fill="none" stroke="#2a2a2a" stroke-width="0.9"/>
<rect x="529.50" y="264.50" width="42.00" height="14.00" fill="none" stroke="#111" stroke-width="1.0"/>
<line x1="543.50" y1="264.40" x2="543.50" y2="278.90" stroke="#111" stroke-width="1.0"/>
<line x1="557.50" y1="264.40" x2="557.50" y2="278.90" stroke="#111" stroke-width="1.0"/>
<text x="536.70" y="269.89" font-size="4.1" text-anchor="middle" fill="#1c1818" stroke="#1c1818" stroke-width="0.082" >131-01</text>
<text x="536.70" y="275.59" font-size="4.1" text-anchor="middle" fill="#1c1818" stroke="#1c1818" stroke-width="0.082" >P</text>
<text x="550.80" y="269.89" font-size="4.1" text-anchor="middle" fill="#1c1818" stroke="#1c1818" stroke-width="0.082" >131-01</text>
<text x="550.80" y="275.59" font-size="4.1" text-anchor="middle" fill="#1c1818" stroke="#1c1818" stroke-width="0.082" >R-L</text>
<text x="564.80" y="269.89" font-size="4.1" text-anchor="middle" fill="#1c1818" stroke="#1c1818" stroke-width="0.082" >122-01</text>
<text x="564.80" y="275.59" font-size="4.1" text-anchor="middle" fill="#1c1818" stroke="#1c1818" stroke-width="0.082" >V</text>
<text x="521.80" y="264.60" font-size="4.0" text-anchor="middle" fill="#2a2a4a" stroke="#2a2a4a" stroke-width="0.080" >3</text>
<text x="578.90" y="263.50" font-size="4.0" text-anchor="middle" fill="#2a2a4a" stroke="#2a2a4a" stroke-width="0.080" >1</text>
<text x="551.00" y="283.20" font-size="3.9960000000000004" text-anchor="middle" fill="#1e1414" stroke="#1e1414" stroke-width="0.080" >YAZAKI  8WP</text>
<text x="551.00" y="286.90" font-size="3.9960000000000004" text-anchor="middle" fill="#1e1414" stroke="#1e1414" stroke-width="0.080" >7123-7434-40</text>
<rect x="604.50" y="258.50" width="14.00" height="5.00" rx="0" fill="#fff" stroke="#222" stroke-width="0.8"/>
<rect x="585.50" y="263.50" width="53.00" height="17.00" rx="3" fill="#fff" stroke="#2a2a2a" stroke-width="0.9"/>
<rect x="583.50" y="267.50" width="2.00" height="7.00" rx="0" fill="#fff" stroke="#222" stroke-width="0.8"/>
<rect x="638.50" y="267.50" width="2.00" height="7.00" rx="0" fill="#fff" stroke="#222" stroke-width="0.8"/>
<rect x="590.50" y="264.50" width="43.00" height="14.00" fill="none" stroke="#111" stroke-width="1.0"/>
<line x1="604.50" y1="264.00" x2="604.50" y2="278.90" stroke="#111" stroke-width="1.0"/>
<line x1="618.50" y1="264.00" x2="618.50" y2="278.90" stroke="#111" stroke-width="1.0"/>
<text x="610.00" y="283.20" font-size="3.9960000000000004" text-anchor="middle" fill="#1e1414" stroke="#1e1414" stroke-width="0.080" >YAZAKI  8WP</text>
<text x="610.00" y="286.90" font-size="3.9960000000000004" text-anchor="middle" fill="#1e1414" stroke="#1e1414" stroke-width="0.080" >7223-7434-40</text>
<text x="646.00" y="268.70" font-size="6.83" text-anchor="start" fill="#1a1a1a"  textLength="69.15" lengthAdjust="spacingAndGlyphs">Lift arm (boom) raise pilot</text>
<text x="646.00" y="275.00" font-size="6.83" text-anchor="start" fill="#1a1a1a"  textLength="43.73" lengthAdjust="spacingAndGlyphs">pressure sensor</text>
<polyline points="591.50,134.40 591.50,172.50 607.20,172.50" fill="none" stroke="#1e1e1e" stroke-width="0.9"/>
<polyline points="604.50,172.80 604.50,239.50 761.90,239.50" fill="none" stroke="#777" stroke-width="0.9"/>
<line x1="604.00" y1="214.50" x2="614.30" y2="214.50" stroke="#1e1e1e" stroke-width="0.9"/>
<rect x="607.50" y="169.50" width="20.00" height="7.00" rx="0" fill="#fff" stroke="#1e1e1e" stroke-width="0.9"/>
<text x="617.50" y="175.02" font-size="6.27" text-anchor="middle" fill="#1a1a1a"  textLength="16.18" lengthAdjust="spacingAndGlyphs">COUP</text>
<line x1="627.80" y1="172.50" x2="635.50" y2="172.50" stroke="#1e1e1e" stroke-width="0.9"/>
<text x="662.50" y="149.50" font-size="6.83" text-anchor="middle" fill="#1a1a1a"  textLength="20.68" lengthAdjust="spacingAndGlyphs">CN.018</text>
<text x="663.50" y="156.50" font-size="6.83" text-anchor="middle" fill="#1a1a1a"  textLength="36.95" lengthAdjust="spacingAndGlyphs">Coupler (Opt)</text>
<rect x="657.50" y="159.50" width="14.30" height="5.00" fill="#2b3535"/>
<path d="M641.5,164.5 H687 Q689.5,164.5 689.5,167 V169 H692.5 V175.2 H689.5 V178.5 Q689.5,181 687,181 H641.5 Q639,181 639,178.5 V175.5 H635.5 V169 H639 V167 Q639,164.5 641.5,164.5 Z" fill="#fff" stroke="#2a2a2a" stroke-width="0.9"/>
<rect x="643.50" y="165.50" width="42.00" height="14.00" fill="none" stroke="#111" stroke-width="1.0"/>
<line x1="657.50" y1="165.50" x2="657.50" y2="179.50" stroke="#111" stroke-width="1.0"/>
<line x1="671.50" y1="165.50" x2="671.50" y2="179.50" stroke="#111" stroke-width="1.0"/>
<text x="650.65" y="170.80" font-size="4.1" text-anchor="middle" fill="#1c1818" stroke="#1c1818" stroke-width="0.082" >341-01</text>
<text x="650.65" y="176.30" font-size="4.1" text-anchor="middle" fill="#1c1818" stroke="#1c1818" stroke-width="0.082" >L-R</text>
<text x="664.65" y="170.80" font-size="4.1" text-anchor="middle" fill="#1c1818" stroke="#1c1818" stroke-width="0.082" >000-02</text>
<text x="664.65" y="176.30" font-size="4.1" text-anchor="middle" fill="#1c1818" stroke="#1c1818" stroke-width="0.082" >B</text>
<text x="678.50" y="170.80" font-size="4.1" text-anchor="middle" fill="#1c1818" stroke="#1c1818" stroke-width="0.082" >342-01</text>
<text x="678.50" y="176.30" font-size="4.1" text-anchor="middle" fill="#1c1818" stroke="#1c1818" stroke-width="0.082" >G-B</text>
<text x="635.50" y="163.80" font-size="4.0" text-anchor="middle" fill="#2a2a4a" stroke="#2a2a4a" stroke-width="0.080" >3</text>
<text x="691.50" y="163.80" font-size="4.0" text-anchor="middle" fill="#2a2a4a" stroke="#2a2a4a" stroke-width="0.080" >1</text>
<text x="664.00" y="184.00" font-size="3.9960000000000004" text-anchor="middle" fill="#1e1414" stroke="#1e1414" stroke-width="0.080" >YAZAKI  8WP</text>
<text x="664.00" y="187.70" font-size="3.9960000000000004" text-anchor="middle" fill="#1e1414" stroke="#1e1414" stroke-width="0.080" >7123-7434-40</text>
<rect x="718.50" y="158.50" width="14.00" height="6.00" rx="0" fill="#fff" stroke="#222" stroke-width="0.8"/>
<rect x="699.50" y="164.50" width="51.00" height="17.00" rx="3" fill="#fff" stroke="#2a2a2a" stroke-width="0.9"/>
<rect x="696.50" y="168.50" width="3.00" height="7.00" rx="0" fill="#fff" stroke="#222" stroke-width="0.8"/>
<rect x="750.50" y="168.50" width="3.00" height="7.00" rx="0" fill="#fff" stroke="#222" stroke-width="0.8"/>
<rect x="704.50" y="164.50" width="42.00" height="15.00" fill="none" stroke="#111" stroke-width="1.0"/>
<line x1="718.50" y1="165.00" x2="718.50" y2="179.20" stroke="#111" stroke-width="1.0"/>
<line x1="732.50" y1="165.00" x2="732.50" y2="179.20" stroke="#111" stroke-width="1.0"/>
<text x="723.50" y="184.30" font-size="3.9960000000000004" text-anchor="middle" fill="#1e1414" stroke="#1e1414" stroke-width="0.080" >YAZAKI  8WP</text>
<text x="723.50" y="188.00" font-size="3.9960000000000004" text-anchor="middle" fill="#1e1414" stroke="#1e1414" stroke-width="0.080" >7223-7434-40</text>
<rect x="614.50" y="211.50" width="16.00" height="7.00" rx="0" fill="#fff" stroke="#1e1e1e" stroke-width="0.9"/>
<text x="622.40" y="217.02" font-size="6.27" text-anchor="middle" fill="#1a1a1a"  textLength="8.09" lengthAdjust="spacingAndGlyphs">RC</text>
<line x1="630.50" y1="214.50" x2="646.50" y2="214.50" stroke="#1e1e1e" stroke-width="0.9"/>
<text x="661.50" y="198.50" font-size="6.83" text-anchor="middle" fill="#1a1a1a"  textLength="20.68" lengthAdjust="spacingAndGlyphs">CN.003</text>
<rect x="655.50" y="201.50" width="14.20" height="4.70" fill="#2b3535"/>
<rect x="646.50" y="206.50" width="32.00" height="17.00" rx="2.5" fill="#fff" stroke="#2a2a2a" stroke-width="0.9"/>
<rect x="648.50" y="207.50" width="28.00" height="14.00" fill="none" stroke="#111" stroke-width="1.0"/>
<line x1="662.50" y1="207.80" x2="662.50" y2="221.20" stroke="#111" stroke-width="1.0"/>
<text x="655.75" y="212.87" font-size="4.1" text-anchor="middle" fill="#1c1818" stroke="#1c1818" stroke-width="0.082" >332-01</text>
<text x="655.75" y="218.14" font-size="4.1" text-anchor="middle" fill="#1c1818" stroke="#1c1818" stroke-width="0.082" >W-B</text>
<text x="669.75" y="212.87" font-size="4.1" text-anchor="middle" fill="#1c1818" stroke="#1c1818" stroke-width="0.082" >331-01</text>
<text x="669.75" y="218.14" font-size="4.1" text-anchor="middle" fill="#1c1818" stroke="#1c1818" stroke-width="0.082" >Y-B</text>
<rect x="649.50" y="223.50" width="3.00" height="2.00" rx="0" fill="#fff" stroke="#222" stroke-width="0.8"/>
<text x="642.80" y="208.00" font-size="4.0" text-anchor="middle" fill="#2a2a4a" stroke="#2a2a4a" stroke-width="0.080" >2</text>
<text x="680.50" y="208.00" font-size="4.0" text-anchor="middle" fill="#2a2a4a" stroke="#2a2a4a" stroke-width="0.080" >1</text>
<text x="659.50" y="229.60" font-size="3.8880000000000003" text-anchor="middle" fill="#1e1414" stroke="#1e1414" stroke-width="0.078" >SUMITOMO  MT090</text>
<text x="659.50" y="232.90" font-size="3.8880000000000003" text-anchor="middle" fill="#1e1414" stroke="#1e1414" stroke-width="0.078" >6182-0321</text>
<rect x="696.50" y="200.50" width="16.00" height="5.00" rx="0" fill="#fff" stroke="#222" stroke-width="0.8"/>
<rect x="689" y="205.7" width="31.6" height="17.9" rx="2.5" fill="#fff" stroke="#111" stroke-width="1.3"/>
<line x1="704.50" y1="205.70" x2="704.50" y2="223.60" stroke="#111" stroke-width="1.0"/>
<rect x="714.50" y="223.50" width="3.00" height="2.00" rx="0" fill="#fff" stroke="#222" stroke-width="0.8"/>
<text x="704.00" y="229.80" font-size="3.8880000000000003" text-anchor="middle" fill="#1e1414" stroke="#1e1414" stroke-width="0.078" >SUMITOMO  MT090</text>
<text x="704.00" y="233.10" font-size="3.8880000000000003" text-anchor="middle" fill="#1e1414" stroke="#1e1414" stroke-width="0.078" >6182-2431</text>
<text x="726.00" y="215.60" font-size="6.83" text-anchor="start" fill="#1a1a1a"  textLength="56.96" lengthAdjust="spacingAndGlyphs">Ride control solenoid</text>
<path d="M720.30,242.80 L722.00,239.80 L723.70,242.80 Z" fill="#fff" stroke="#1a1a1a" stroke-width="0.9"/>
<text x="722.00" y="246.40" font-size="3.6" text-anchor="middle" fill="#2a1f1f" stroke="#2a1f1f" stroke-width="0.072" >JN.A26</text>
<path d="M732.90,242.80 L734.60,239.80 L736.30,242.80 Z" fill="#fff" stroke="#1a1a1a" stroke-width="0.9"/>
<text x="734.60" y="246.40" font-size="3.6" text-anchor="middle" fill="#2a1f1f" stroke="#2a1f1f" stroke-width="0.072" >JN.A24</text>
<rect x="761.50" y="235.50" width="16.00" height="7.00" rx="0" fill="#fff" stroke="#1e1e1e" stroke-width="0.9"/>
<text x="769.90" y="240.82" font-size="6.27" text-anchor="middle" fill="#1a1a1a"  textLength="7.78" lengthAdjust="spacingAndGlyphs">HA</text>
<polyline points="751.50,239.40 751.50,285.50 762.60,285.50" fill="none" stroke="#777" stroke-width="0.9"/>
<rect x="762.50" y="281.50" width="15.00" height="7.00" rx="0" fill="#fff" stroke="#1e1e1e" stroke-width="0.9"/>
<text x="770.15" y="287.12" font-size="6.27" text-anchor="middle" fill="#1a1a1a"  textLength="7.78" lengthAdjust="spacingAndGlyphs">HB</text>
<line x1="777.90" y1="238.50" x2="789.30" y2="238.50" stroke="#555" stroke-width="0.9"/>
<line x1="777.70" y1="285.50" x2="789.30" y2="285.50" stroke="#555" stroke-width="0.9"/>
<polyline points="789.30,238.90 807.20,223.50 814.20,223.50" fill="none" stroke="#444" stroke-width="0.9"/>
<text x="812.40" y="214.60" font-size="6.83" text-anchor="start" fill="#1a1a1a"  textLength="20.68" lengthAdjust="spacingAndGlyphs">CN.012</text>
<text x="821.60" y="218.80" font-size="2.9" text-anchor="middle" fill="#555" stroke="#555" stroke-width="0.058" >(7A1708957)</text>
<rect x="820.20" y="220.30" width="8.0" height="7.0" rx="1.0" fill="#111"/>
<rect x="814.70" y="221.60" width="6.0" height="4.4" rx="0.9" fill="#fff" stroke="#111" stroke-width="1.0"/>
<rect x="817.50" y="221.40" width="3.2" height="4.8" fill="#111"/>
<ellipse cx="818.50" cy="223.80" rx="0.45" ry="1.0" fill="#fff"/>
<ellipse cx="820.30" cy="223.80" rx="0.5" ry="1.1" fill="#fff"/>
<path d="M822.20,223.80 L827.10,221.80 L826.50,223.80 L827.10,225.80 Z" fill="#fff"/>
<rect x="822.80" y="222.80" width="3.0" height="2.0" fill="#fff"/>
<text x="810.50" y="229.00" font-size="3.3" text-anchor="middle" fill="#2a2a4a" stroke="#2a2a4a" stroke-width="0.066" >1</text>
<text x="822.00" y="229.00" font-size="2.9" text-anchor="middle" fill="#222" stroke="#222" stroke-width="0.058" >F100150N</text>
<text x="839.00" y="223.10" font-size="4.266000000000001" text-anchor="middle" fill="#1e1414" stroke="#1e1414" stroke-width="0.085" >000-10</text>
<text x="839.00" y="226.70" font-size="4.266000000000001" text-anchor="middle" fill="#1e1414" stroke="#1e1414" stroke-width="0.085" >B</text>
<text x="847.70" y="226.50" font-size="6.83" text-anchor="start" fill="#1a1a1a"  textLength="30.51" lengthAdjust="spacingAndGlyphs">Horn (high)</text>
<polyline points="789.30,238.90 807.20,250.50 814.20,250.50" fill="none" stroke="#444" stroke-width="0.9"/>
<text x="812.40" y="241.60" font-size="6.83" text-anchor="start" fill="#1a1a1a"  textLength="20.68" lengthAdjust="spacingAndGlyphs">CN.013</text>
<text x="821.60" y="245.80" font-size="2.9" text-anchor="middle" fill="#555" stroke="#555" stroke-width="0.058" >(7A1708957)</text>
<rect x="820.20" y="246.70" width="8.0" height="7.0" rx="1.0" fill="#111"/>
<rect x="814.70" y="248.00" width="6.0" height="4.4" rx="0.9" fill="#fff" stroke="#111" stroke-width="1.0"/>
<rect x="817.50" y="247.80" width="3.2" height="4.8" fill="#111"/>
<ellipse cx="818.50" cy="250.20" rx="0.45" ry="1.0" fill="#fff"/>
<ellipse cx="820.30" cy="250.20" rx="0.5" ry="1.1" fill="#fff"/>
<path d="M822.20,250.20 L827.10,248.20 L826.50,250.20 L827.10,252.20 Z" fill="#fff"/>
<rect x="822.80" y="249.20" width="3.0" height="2.0" fill="#fff"/>
<text x="810.50" y="255.40" font-size="3.3" text-anchor="middle" fill="#2a2a4a" stroke="#2a2a4a" stroke-width="0.066" >1</text>
<text x="822.00" y="255.40" font-size="2.9" text-anchor="middle" fill="#222" stroke="#222" stroke-width="0.058" >F100150N</text>
<text x="839.00" y="249.50" font-size="4.266000000000001" text-anchor="middle" fill="#1e1414" stroke="#1e1414" stroke-width="0.085" >527-03</text>
<text x="839.00" y="253.10" font-size="4.266000000000001" text-anchor="middle" fill="#1e1414" stroke="#1e1414" stroke-width="0.085" >W-B</text>
<text x="847.70" y="252.90" font-size="6.83" text-anchor="start" fill="#1a1a1a"  textLength="30.51" lengthAdjust="spacingAndGlyphs">Horn (high)</text>
<polyline points="789.30,285.10 807.20,274.50 814.20,274.50" fill="none" stroke="#444" stroke-width="0.9"/>
<text x="812.40" y="266.70" font-size="6.83" text-anchor="start" fill="#1a1a1a"  textLength="20.68" lengthAdjust="spacingAndGlyphs">CN.010</text>
<text x="821.60" y="270.90" font-size="2.9" text-anchor="middle" fill="#555" stroke="#555" stroke-width="0.058" >(7A1708957)</text>
<rect x="820.20" y="271.10" width="8.0" height="7.0" rx="1.0" fill="#111"/>
<rect x="814.70" y="272.40" width="6.0" height="4.4" rx="0.9" fill="#fff" stroke="#111" stroke-width="1.0"/>
<rect x="817.50" y="272.20" width="3.2" height="4.8" fill="#111"/>
<ellipse cx="818.50" cy="274.60" rx="0.45" ry="1.0" fill="#fff"/>
<ellipse cx="820.30" cy="274.60" rx="0.5" ry="1.1" fill="#fff"/>
<path d="M822.20,274.60 L827.10,272.60 L826.50,274.60 L827.10,276.60 Z" fill="#fff"/>
<rect x="822.80" y="273.60" width="3.0" height="2.0" fill="#fff"/>
<text x="810.50" y="279.80" font-size="3.3" text-anchor="middle" fill="#2a2a4a" stroke="#2a2a4a" stroke-width="0.066" >1</text>
<text x="822.00" y="279.80" font-size="2.9" text-anchor="middle" fill="#222" stroke="#222" stroke-width="0.058" >F100150N</text>
<text x="839.00" y="273.90" font-size="4.266000000000001" text-anchor="middle" fill="#1e1414" stroke="#1e1414" stroke-width="0.085" >000-09</text>
<text x="839.00" y="277.50" font-size="4.266000000000001" text-anchor="middle" fill="#1e1414" stroke="#1e1414" stroke-width="0.085" >B</text>
<text x="847.70" y="277.30" font-size="6.83" text-anchor="start" fill="#1a1a1a"  textLength="28.13" lengthAdjust="spacingAndGlyphs">Horn (low)</text>
<polyline points="789.30,285.10 807.20,298.50 814.20,298.50" fill="none" stroke="#444" stroke-width="0.9"/>
<text x="812.40" y="290.00" font-size="6.83" text-anchor="start" fill="#1a1a1a"  textLength="20.23" lengthAdjust="spacingAndGlyphs">CN.011</text>
<text x="821.60" y="294.20" font-size="2.9" text-anchor="middle" fill="#555" stroke="#555" stroke-width="0.058" >(7A1708957)</text>
<rect x="820.20" y="295.10" width="8.0" height="7.0" rx="1.0" fill="#111"/>
<rect x="814.70" y="296.40" width="6.0" height="4.4" rx="0.9" fill="#fff" stroke="#111" stroke-width="1.0"/>
<rect x="817.50" y="296.20" width="3.2" height="4.8" fill="#111"/>
<ellipse cx="818.50" cy="298.60" rx="0.45" ry="1.0" fill="#fff"/>
<ellipse cx="820.30" cy="298.60" rx="0.5" ry="1.1" fill="#fff"/>
<path d="M822.20,298.60 L827.10,296.60 L826.50,298.60 L827.10,300.60 Z" fill="#fff"/>
<rect x="822.80" y="297.60" width="3.0" height="2.0" fill="#fff"/>
<text x="810.50" y="303.80" font-size="3.3" text-anchor="middle" fill="#2a2a4a" stroke="#2a2a4a" stroke-width="0.066" >1</text>
<text x="822.00" y="303.80" font-size="2.9" text-anchor="middle" fill="#222" stroke="#222" stroke-width="0.058" >F100150N</text>
<text x="839.00" y="297.90" font-size="4.266000000000001" text-anchor="middle" fill="#1e1414" stroke="#1e1414" stroke-width="0.085" >527-02</text>
<text x="839.00" y="301.50" font-size="4.266000000000001" text-anchor="middle" fill="#1e1414" stroke="#1e1414" stroke-width="0.085" >W-B</text>
<text x="847.70" y="301.30" font-size="6.83" text-anchor="start" fill="#1a1a1a"  textLength="28.13" lengthAdjust="spacingAndGlyphs">Horn (low)</text>
<text x="76.00" y="269.80" font-size="4.75" text-anchor="start" fill="#1c1c1c" >CN: Connector, JN: Junction</text>
<line x1="72.10" y1="272.50" x2="359.00" y2="272.50" stroke="#1a1a1a" stroke-width="1.0"/>
<line x1="107.60" y1="282.50" x2="323.40" y2="282.50" stroke="#1a1a1a" stroke-width="1.0"/>
<line x1="72.10" y1="292.50" x2="359.00" y2="292.50" stroke="#1a1a1a" stroke-width="1.0"/>
<line x1="72.10" y1="300.50" x2="359.00" y2="300.50" stroke="#1a1a1a" stroke-width="1.0"/>
<line x1="72.10" y1="307.50" x2="359.00" y2="307.50" stroke="#1a1a1a" stroke-width="1.0"/>
<line x1="72.10" y1="314.50" x2="359.00" y2="314.50" stroke="#1a1a1a" stroke-width="1.0"/>
<line x1="72.10" y1="322.50" x2="359.00" y2="322.50" stroke="#1a1a1a" stroke-width="1.0"/>
<line x1="72.10" y1="329.50" x2="359.00" y2="329.50" stroke="#1a1a1a" stroke-width="1.0"/>
<line x1="72.10" y1="336.50" x2="359.00" y2="336.50" stroke="#1a1a1a" stroke-width="1.0"/>
<line x1="72.10" y1="344.50" x2="359.00" y2="344.50" stroke="#1a1a1a" stroke-width="1.0"/>
<line x1="72.10" y1="351.50" x2="359.00" y2="351.50" stroke="#1a1a1a" stroke-width="1.0"/>
<line x1="72.10" y1="358.50" x2="359.00" y2="358.50" stroke="#1a1a1a" stroke-width="1.0"/>
<line x1="72.10" y1="366.50" x2="359.00" y2="366.50" stroke="#1a1a1a" stroke-width="1.0"/>
<line x1="72.10" y1="373.50" x2="359.00" y2="373.50" stroke="#1a1a1a" stroke-width="1.0"/>
<line x1="72.10" y1="380.50" x2="359.00" y2="380.50" stroke="#1a1a1a" stroke-width="1.0"/>
<line x1="72.10" y1="387.50" x2="359.00" y2="387.50" stroke="#1a1a1a" stroke-width="1.0"/>
<line x1="72.10" y1="395.50" x2="359.00" y2="395.50" stroke="#1a1a1a" stroke-width="1.0"/>
<line x1="72.10" y1="402.50" x2="359.00" y2="402.50" stroke="#1a1a1a" stroke-width="1.0"/>
<line x1="72.10" y1="409.50" x2="359.00" y2="409.50" stroke="#1a1a1a" stroke-width="1.0"/>
<line x1="72.10" y1="417.50" x2="359.00" y2="417.50" stroke="#1a1a1a" stroke-width="1.0"/>
<line x1="72.10" y1="424.50" x2="359.00" y2="424.50" stroke="#1a1a1a" stroke-width="1.0"/>
<line x1="72.10" y1="431.50" x2="359.00" y2="431.50" stroke="#1a1a1a" stroke-width="1.0"/>
<line x1="72.10" y1="439.50" x2="359.00" y2="439.50" stroke="#1a1a1a" stroke-width="1.0"/>
<line x1="72.10" y1="446.50" x2="359.00" y2="446.50" stroke="#1a1a1a" stroke-width="1.0"/>
<line x1="72.10" y1="453.50" x2="359.00" y2="453.50" stroke="#1a1a1a" stroke-width="1.0"/>
<line x1="72.10" y1="461.50" x2="359.00" y2="461.50" stroke="#1a1a1a" stroke-width="1.0"/>
<line x1="72.10" y1="468.50" x2="359.00" y2="468.50" stroke="#1a1a1a" stroke-width="1.0"/>
<line x1="72.10" y1="475.50" x2="359.00" y2="475.50" stroke="#1a1a1a" stroke-width="1.0"/>
<line x1="72.10" y1="483.50" x2="359.00" y2="483.50" stroke="#1a1a1a" stroke-width="1.0"/>
<line x1="72.10" y1="490.50" x2="359.00" y2="490.50" stroke="#1a1a1a" stroke-width="1.0"/>
<line x1="72.10" y1="497.50" x2="359.00" y2="497.50" stroke="#1a1a1a" stroke-width="1.0"/>
<line x1="72.10" y1="505.50" x2="359.00" y2="505.50" stroke="#1a1a1a" stroke-width="1.0"/>
<line x1="72.10" y1="512.50" x2="359.00" y2="512.50" stroke="#1a1a1a" stroke-width="1.0"/>
<line x1="72.10" y1="519.50" x2="359.00" y2="519.50" stroke="#1a1a1a" stroke-width="1.0"/>
<line x1="72.10" y1="527.50" x2="359.00" y2="527.50" stroke="#1a1a1a" stroke-width="1.0"/>
<line x1="72.10" y1="534.50" x2="359.00" y2="534.50" stroke="#1a1a1a" stroke-width="1.0"/>
<line x1="72.10" y1="541.50" x2="359.00" y2="541.50" stroke="#1a1a1a" stroke-width="1.0"/>
<line x1="72.10" y1="549.50" x2="359.00" y2="549.50" stroke="#1a1a1a" stroke-width="1.0"/>
<line x1="72.10" y1="556.50" x2="359.00" y2="556.50" stroke="#1a1a1a" stroke-width="1.0"/>
<line x1="72.10" y1="563.50" x2="359.00" y2="563.50" stroke="#1a1a1a" stroke-width="1.0"/>
<line x1="72.10" y1="571.50" x2="359.00" y2="571.50" stroke="#1a1a1a" stroke-width="1.0"/>
<line x1="72.10" y1="578.50" x2="359.00" y2="578.50" stroke="#1a1a1a" stroke-width="1.0"/>
<line x1="72.10" y1="585.50" x2="359.00" y2="585.50" stroke="#1a1a1a" stroke-width="1.0"/>
<line x1="84.50" y1="272.30" x2="84.50" y2="585.50" stroke="#1a1a1a" stroke-width="1.0"/>
<line x1="107.50" y1="272.30" x2="107.50" y2="585.50" stroke="#1a1a1a" stroke-width="1.0"/>
<line x1="218.50" y1="272.30" x2="218.50" y2="585.50" stroke="#1a1a1a" stroke-width="1.0"/>
<line x1="323.50" y1="272.30" x2="323.50" y2="585.50" stroke="#1a1a1a" stroke-width="1.0"/>
<line x1="341.50" y1="272.30" x2="341.50" y2="585.50" stroke="#1a1a1a" stroke-width="1.0"/>
<line x1="129.50" y1="282.50" x2="129.50" y2="585.50" stroke="#1a1a1a" stroke-width="1.0"/>
<line x1="208.50" y1="282.50" x2="208.50" y2="585.50" stroke="#1a1a1a" stroke-width="1.0"/>
<line x1="237.50" y1="282.50" x2="237.50" y2="585.50" stroke="#1a1a1a" stroke-width="1.0"/>
<line x1="312.50" y1="282.50" x2="312.50" y2="585.50" stroke="#1a1a1a" stroke-width="1.0"/>
<text x="163.00" y="279.30" font-size="4.7" text-anchor="middle" fill="#1c1c1c" >From</text>
<text x="271.00" y="279.30" font-size="4.7" text-anchor="middle" fill="#1c1c1c" >To</text>
<text x="96.00" y="284.50" font-size="4.7" text-anchor="middle" fill="#1c1c1c" >Wire No.</text>
<text x="118.50" y="287.20" font-size="4.7" text-anchor="middle" fill="#1c1c1c" >CN/JN</text>
<text x="118.50" y="291.60" font-size="4.7" text-anchor="middle" fill="#1c1c1c" >No.</text>
<text x="228.10" y="287.20" font-size="4.7" text-anchor="middle" fill="#1c1c1c" >CN/JN</text>
<text x="228.10" y="291.60" font-size="4.7" text-anchor="middle" fill="#1c1c1c" >No.</text>
<text x="213.50" y="289.80" font-size="4.7" text-anchor="middle" fill="#1c1c1c" >Pin</text>
<text x="318.00" y="289.80" font-size="4.7" text-anchor="middle" fill="#1c1c1c" >Pin</text>
<text x="333.00" y="281.10" font-size="4.7" text-anchor="middle" fill="#1c1c1c" >Wire</text>
<text x="333.00" y="285.80" font-size="4.7" text-anchor="middle" fill="#1c1c1c" >Dia.</text>
<text x="344.70" y="281.10" font-size="4.7" text-anchor="start" fill="#1c1c1c" >Wire</text>
<text x="344.70" y="285.80" font-size="4.7" text-anchor="start" fill="#1c1c1c" >Color</text>
<text x="78.20" y="297.80" font-size="4.7" text-anchor="middle" fill="#1c1c1c" >1</text>
<text x="87.00" y="297.80" font-size="4.7" text-anchor="start" fill="#1c1c1c" >000-01</text>
<text x="111.20" y="297.80" font-size="4.7" text-anchor="start" fill="#1c1c1c" >CN.002</text>
<text x="134.20" y="297.80" font-size="4.7" text-anchor="start" fill="#1c1c1c" >Center harness 2</text>
<text x="213.50" y="297.80" font-size="4.7" text-anchor="middle" fill="#1c1c1c" >14</text>
<text x="219.30" y="297.80" font-size="4.7" text-anchor="start" fill="#1c1c1c" >CN.015</text>
<text x="242.30" y="297.80" font-size="4.7" text-anchor="start" fill="#1c1c1c" >GND</text>
<text x="318.00" y="297.80" font-size="4.7" text-anchor="middle" fill="#1c1c1c" >1</text>
<text x="326.50" y="297.80" font-size="4.7" text-anchor="start" fill="#1c1c1c" >1.25</text>
<text x="345.60" y="297.80" font-size="4.7" text-anchor="start" fill="#1c1c1c" >B</text>
<text x="78.20" y="305.13" font-size="4.7" text-anchor="middle" fill="#1c1c1c" >2</text>
<text x="87.00" y="305.13" font-size="4.7" text-anchor="start" fill="#1c1c1c" >000-02</text>
<text x="111.20" y="305.13" font-size="4.7" text-anchor="start" fill="#1c1c1c" >CN.015</text>
<text x="134.20" y="305.13" font-size="4.7" text-anchor="start" fill="#1c1c1c" >GND</text>
<text x="213.50" y="305.13" font-size="4.7" text-anchor="middle" fill="#1c1c1c" >1</text>
<text x="219.30" y="305.13" font-size="4.7" text-anchor="start" fill="#1c1c1c" >CN.018</text>
<text x="242.30" y="305.13" font-size="4.7" text-anchor="start" fill="#1c1c1c" >Quick coupler (opt)</text>
<text x="318.00" y="305.13" font-size="4.7" text-anchor="middle" fill="#1c1c1c" >2</text>
<text x="326.50" y="305.13" font-size="4.7" text-anchor="start" fill="#1c1c1c" >1.25</text>
<text x="345.60" y="305.13" font-size="4.7" text-anchor="start" fill="#1c1c1c" >B</text>
<text x="78.20" y="312.46" font-size="4.7" text-anchor="middle" fill="#1c1c1c" >3</text>
<text x="87.00" y="312.46" font-size="4.7" text-anchor="start" fill="#1c1c1c" >000-03</text>
<text x="111.20" y="312.46" font-size="4.7" text-anchor="start" fill="#1c1c1c" >CN.006</text>
<text x="134.20" y="312.46" font-size="4.7" text-anchor="start" fill="#1c1c1c" >Front combination lamp (L)(GND)</text>
<text x="213.50" y="312.46" font-size="4.7" text-anchor="middle" fill="#1c1c1c" >1</text>
<text x="219.30" y="312.46" font-size="4.7" text-anchor="start" fill="#1c1c1c" >CN.015</text>
<text x="242.30" y="312.46" font-size="4.7" text-anchor="start" fill="#1c1c1c" >GND</text>
<text x="318.00" y="312.46" font-size="4.7" text-anchor="middle" fill="#1c1c1c" >1</text>
<text x="326.50" y="312.46" font-size="4.7" text-anchor="start" fill="#1c1c1c" >1.25</text>
<text x="345.60" y="312.46" font-size="4.7" text-anchor="start" fill="#1c1c1c" >B</text>
<text x="78.20" y="319.79" font-size="4.7" text-anchor="middle" fill="#1c1c1c" >4</text>
<text x="87.00" y="319.79" font-size="4.7" text-anchor="start" fill="#1c1c1c" >000-04</text>
<text x="111.20" y="319.79" font-size="4.7" text-anchor="start" fill="#1c1c1c" >CN.007</text>
<text x="134.20" y="319.79" font-size="4.7" text-anchor="start" fill="#1c1c1c" >Head light (L)</text>
<text x="213.50" y="319.79" font-size="4.7" text-anchor="middle" fill="#1c1c1c" >3</text>
<text x="219.30" y="319.79" font-size="4.7" text-anchor="start" fill="#1c1c1c" >CN.015</text>
<text x="242.30" y="319.79" font-size="4.7" text-anchor="start" fill="#1c1c1c" >GND</text>
<text x="318.00" y="319.79" font-size="4.7" text-anchor="middle" fill="#1c1c1c" >1</text>
<text x="326.50" y="319.79" font-size="4.7" text-anchor="start" fill="#1c1c1c" >1.25</text>
<text x="345.60" y="319.79" font-size="4.7" text-anchor="start" fill="#1c1c1c" >B</text>
<text x="78.20" y="327.12" font-size="4.7" text-anchor="middle" fill="#1c1c1c" >5</text>
<text x="87.00" y="327.12" font-size="4.7" text-anchor="start" fill="#1c1c1c" >000-05</text>
<text x="111.20" y="327.12" font-size="4.7" text-anchor="start" fill="#1c1c1c" >JN.A05</text>
<text x="219.30" y="327.12" font-size="4.7" text-anchor="start" fill="#1c1c1c" >CN.015</text>
<text x="242.30" y="327.12" font-size="4.7" text-anchor="start" fill="#1c1c1c" >GND</text>
<text x="318.00" y="327.12" font-size="4.7" text-anchor="middle" fill="#1c1c1c" >1</text>
<text x="326.50" y="327.12" font-size="4.7" text-anchor="start" fill="#1c1c1c" >1.25</text>
<text x="345.60" y="327.12" font-size="4.7" text-anchor="start" fill="#1c1c1c" >B</text>
<text x="78.20" y="334.45" font-size="4.7" text-anchor="middle" fill="#1c1c1c" >6</text>
<text x="87.00" y="334.45" font-size="4.7" text-anchor="start" fill="#1c1c1c" >000-06</text>
<text x="111.20" y="334.45" font-size="4.7" text-anchor="start" fill="#1c1c1c" >CN.017</text>
<text x="134.20" y="334.45" font-size="4.7" text-anchor="start" fill="#1c1c1c" >Head light (R)</text>
<text x="213.50" y="334.45" font-size="4.7" text-anchor="middle" fill="#1c1c1c" >3</text>
<text x="219.30" y="334.45" font-size="4.7" text-anchor="start" fill="#1c1c1c" >CN.015</text>
<text x="242.30" y="334.45" font-size="4.7" text-anchor="start" fill="#1c1c1c" >GND</text>
<text x="318.00" y="334.45" font-size="4.7" text-anchor="middle" fill="#1c1c1c" >1</text>
<text x="326.50" y="334.45" font-size="4.7" text-anchor="start" fill="#1c1c1c" >1.25</text>
<text x="345.60" y="334.45" font-size="4.7" text-anchor="start" fill="#1c1c1c" >B</text>
<text x="78.20" y="341.78" font-size="4.7" text-anchor="middle" fill="#1c1c1c" >7</text>
<text x="87.00" y="341.78" font-size="4.7" text-anchor="start" fill="#1c1c1c" >000-07</text>
<text x="111.20" y="341.78" font-size="4.7" text-anchor="start" fill="#1c1c1c" >CN.021</text>
<text x="134.20" y="341.78" font-size="4.7" text-anchor="start" fill="#1c1c1c" >Front combination lamp (R)(GND)</text>
<text x="213.50" y="341.78" font-size="4.7" text-anchor="middle" fill="#1c1c1c" >1</text>
<text x="219.30" y="341.78" font-size="4.7" text-anchor="start" fill="#1c1c1c" >CN.015</text>
<text x="242.30" y="341.78" font-size="4.7" text-anchor="start" fill="#1c1c1c" >GND</text>
<text x="318.00" y="341.78" font-size="4.7" text-anchor="middle" fill="#1c1c1c" >1</text>
<text x="326.50" y="341.78" font-size="4.7" text-anchor="start" fill="#1c1c1c" >1.25</text>
<text x="345.60" y="341.78" font-size="4.7" text-anchor="start" fill="#1c1c1c" >B</text>
<text x="78.20" y="349.11" font-size="4.7" text-anchor="middle" fill="#1c1c1c" >8</text>
<text x="87.00" y="349.11" font-size="4.7" text-anchor="start" fill="#1c1c1c" >000-08</text>
<text x="111.20" y="349.11" font-size="4.7" text-anchor="start" fill="#1c1c1c" >CN.022</text>
<text x="134.20" y="349.11" font-size="4.7" text-anchor="start" fill="#1c1c1c" >Bucket leveler proximity SW</text>
<text x="213.50" y="349.11" font-size="4.7" text-anchor="middle" fill="#1c1c1c" >2</text>
<text x="219.30" y="349.11" font-size="4.7" text-anchor="start" fill="#1c1c1c" >CN.015</text>
<text x="242.30" y="349.11" font-size="4.7" text-anchor="start" fill="#1c1c1c" >GND</text>
<text x="318.00" y="349.11" font-size="4.7" text-anchor="middle" fill="#1c1c1c" >1</text>
<text x="326.50" y="349.11" font-size="4.7" text-anchor="start" fill="#1c1c1c" >1.25</text>
<text x="345.60" y="349.11" font-size="4.7" text-anchor="start" fill="#1c1c1c" >B</text>
<text x="78.20" y="356.44" font-size="4.7" text-anchor="middle" fill="#1c1c1c" >9</text>
<text x="87.00" y="356.44" font-size="4.7" text-anchor="start" fill="#1c1c1c" >000-09</text>
<text x="111.20" y="356.44" font-size="4.7" text-anchor="start" fill="#1c1c1c" >JN.A05</text>
<text x="219.30" y="356.44" font-size="4.7" text-anchor="start" fill="#1c1c1c" >CN.010</text>
<text x="242.30" y="356.44" font-size="4.7" text-anchor="start" fill="#1c1c1c" >Horn (low)</text>
<text x="318.00" y="356.44" font-size="4.7" text-anchor="middle" fill="#1c1c1c" >1</text>
<text x="326.50" y="356.44" font-size="4.7" text-anchor="start" fill="#1c1c1c" >1.25</text>
<text x="345.60" y="356.44" font-size="4.7" text-anchor="start" fill="#1c1c1c" >B</text>
<text x="78.20" y="363.77" font-size="4.7" text-anchor="middle" fill="#1c1c1c" >10</text>
<text x="87.00" y="363.77" font-size="4.7" text-anchor="start" fill="#1c1c1c" >000-10</text>
<text x="111.20" y="363.77" font-size="4.7" text-anchor="start" fill="#1c1c1c" >CN.012</text>
<text x="134.20" y="363.77" font-size="4.7" text-anchor="start" fill="#1c1c1c" >Horn (high)</text>
<text x="213.50" y="363.77" font-size="4.7" text-anchor="middle" fill="#1c1c1c" >1</text>
<text x="219.30" y="363.77" font-size="4.7" text-anchor="start" fill="#1c1c1c" >JN.A05</text>
<text x="326.50" y="363.77" font-size="4.7" text-anchor="start" fill="#1c1c1c" >1.25</text>
<text x="345.60" y="363.77" font-size="4.7" text-anchor="start" fill="#1c1c1c" >B</text>
<text x="78.20" y="371.10" font-size="4.7" text-anchor="middle" fill="#1c1c1c" >11</text>
<text x="87.00" y="371.10" font-size="4.7" text-anchor="start" fill="#1c1c1c" >000-11</text>
<text x="111.20" y="371.10" font-size="4.7" text-anchor="start" fill="#1c1c1c" >CN.008</text>
<text x="134.20" y="371.10" font-size="4.7" text-anchor="start" fill="#1c1c1c" >Lift arm kickout proximity SW</text>
<text x="213.50" y="371.10" font-size="4.7" text-anchor="middle" fill="#1c1c1c" >2</text>
<text x="219.30" y="371.10" font-size="4.7" text-anchor="start" fill="#1c1c1c" >CN.015</text>
<text x="242.30" y="371.10" font-size="4.7" text-anchor="start" fill="#1c1c1c" >GND</text>
<text x="318.00" y="371.10" font-size="4.7" text-anchor="middle" fill="#1c1c1c" >1</text>
<text x="326.50" y="371.10" font-size="4.7" text-anchor="start" fill="#1c1c1c" >1.25</text>
<text x="345.60" y="371.10" font-size="4.7" text-anchor="start" fill="#1c1c1c" >B</text>
<text x="78.20" y="378.43" font-size="4.7" text-anchor="middle" fill="#1c1c1c" >12</text>
<text x="87.00" y="378.43" font-size="4.7" text-anchor="start" fill="#1c1c1c" >121-01</text>
<text x="111.20" y="378.43" font-size="4.7" text-anchor="start" fill="#1c1c1c" >CN.016</text>
<text x="134.20" y="378.43" font-size="4.7" text-anchor="start" fill="#1c1c1c" >Lift arm raise pilot pressure sensor</text>
<text x="213.50" y="378.43" font-size="4.7" text-anchor="middle" fill="#1c1c1c" >3</text>
<text x="219.30" y="378.43" font-size="4.7" text-anchor="start" fill="#1c1c1c" >CN.001</text>
<text x="242.30" y="378.43" font-size="4.7" text-anchor="start" fill="#1c1c1c" >Center harness 1</text>
<text x="318.00" y="378.43" font-size="4.7" text-anchor="middle" fill="#1c1c1c" >4</text>
<text x="326.50" y="378.43" font-size="4.7" text-anchor="start" fill="#1c1c1c" >1.25</text>
<text x="345.60" y="378.43" font-size="4.7" text-anchor="start" fill="#1c1c1c" >P</text>
<text x="78.20" y="385.76" font-size="4.7" text-anchor="middle" fill="#1c1c1c" >13</text>
<text x="87.00" y="385.76" font-size="4.7" text-anchor="start" fill="#1c1c1c" >122-01</text>
<text x="111.20" y="385.76" font-size="4.7" text-anchor="start" fill="#1c1c1c" >CN.016</text>
<text x="134.20" y="385.76" font-size="4.7" text-anchor="start" fill="#1c1c1c" >Lift arm raise pilot pressure sensor</text>
<text x="213.50" y="385.76" font-size="4.7" text-anchor="middle" fill="#1c1c1c" >1</text>
<text x="219.30" y="385.76" font-size="4.7" text-anchor="start" fill="#1c1c1c" >CN.001</text>
<text x="242.30" y="385.76" font-size="4.7" text-anchor="start" fill="#1c1c1c" >Center harness 1</text>
<text x="318.00" y="385.76" font-size="4.7" text-anchor="middle" fill="#1c1c1c" >3</text>
<text x="326.50" y="385.76" font-size="4.7" text-anchor="start" fill="#1c1c1c" >1.25</text>
<text x="345.60" y="385.76" font-size="4.7" text-anchor="start" fill="#1c1c1c" >V</text>
<text x="78.20" y="393.09" font-size="4.7" text-anchor="middle" fill="#1c1c1c" >14</text>
<text x="87.00" y="393.09" font-size="4.7" text-anchor="start" fill="#1c1c1c" >123-01</text>
<text x="111.20" y="393.09" font-size="4.7" text-anchor="start" fill="#1c1c1c" >CN.008</text>
<text x="134.20" y="393.09" font-size="4.7" text-anchor="start" fill="#1c1c1c" >Lift arm kickout proximity SW</text>
<text x="213.50" y="393.09" font-size="4.7" text-anchor="middle" fill="#1c1c1c" >6</text>
<text x="219.30" y="393.09" font-size="4.7" text-anchor="start" fill="#1c1c1c" >CN.001</text>
<text x="242.30" y="393.09" font-size="4.7" text-anchor="start" fill="#1c1c1c" >Center harness 1</text>
<text x="318.00" y="393.09" font-size="4.7" text-anchor="middle" fill="#1c1c1c" >6</text>
<text x="326.50" y="393.09" font-size="4.7" text-anchor="start" fill="#1c1c1c" >1.25</text>
<text x="345.60" y="393.09" font-size="4.7" text-anchor="start" fill="#1c1c1c" >W</text>
<text x="78.20" y="400.42" font-size="4.7" text-anchor="middle" fill="#1c1c1c" >15</text>
<text x="87.00" y="400.42" font-size="4.7" text-anchor="start" fill="#1c1c1c" >124-01</text>
<text x="111.20" y="400.42" font-size="4.7" text-anchor="start" fill="#1c1c1c" >JN.A06</text>
<text x="219.30" y="400.42" font-size="4.7" text-anchor="start" fill="#1c1c1c" >CN.002</text>
<text x="242.30" y="400.42" font-size="4.7" text-anchor="start" fill="#1c1c1c" >Center harness 2</text>
<text x="318.00" y="400.42" font-size="4.7" text-anchor="middle" fill="#1c1c1c" >12</text>
<text x="326.50" y="400.42" font-size="4.7" text-anchor="start" fill="#1c1c1c" >1.25</text>
<text x="345.60" y="400.42" font-size="4.7" text-anchor="start" fill="#1c1c1c" >G-B</text>
<text x="78.20" y="407.75" font-size="4.7" text-anchor="middle" fill="#1c1c1c" >16</text>
<text x="87.00" y="407.75" font-size="4.7" text-anchor="start" fill="#1c1c1c" >124-02</text>
<text x="111.20" y="407.75" font-size="4.7" text-anchor="start" fill="#1c1c1c" >CN.008</text>
<text x="134.20" y="407.75" font-size="4.7" text-anchor="start" fill="#1c1c1c" >Lift arm kickout proximity SW</text>
<text x="213.50" y="407.75" font-size="4.7" text-anchor="middle" fill="#1c1c1c" >4</text>
<text x="219.30" y="407.75" font-size="4.7" text-anchor="start" fill="#1c1c1c" >JN.A06</text>
<text x="326.50" y="407.75" font-size="4.7" text-anchor="start" fill="#1c1c1c" >1.25</text>
<text x="345.60" y="407.75" font-size="4.7" text-anchor="start" fill="#1c1c1c" >G-B</text>
<text x="78.20" y="415.08" font-size="4.7" text-anchor="middle" fill="#1c1c1c" >17</text>
<text x="87.00" y="415.08" font-size="4.7" text-anchor="start" fill="#1c1c1c" >124-03</text>
<text x="111.20" y="415.08" font-size="4.7" text-anchor="start" fill="#1c1c1c" >CN.014</text>
<text x="134.20" y="415.08" font-size="4.7" text-anchor="start" fill="#1c1c1c" >Axle oil temperature sensor</text>
<text x="213.50" y="415.08" font-size="4.7" text-anchor="middle" fill="#1c1c1c" >2</text>
<text x="219.30" y="415.08" font-size="4.7" text-anchor="start" fill="#1c1c1c" >JN.A06</text>
<text x="326.50" y="415.08" font-size="4.7" text-anchor="start" fill="#1c1c1c" >1.25</text>
<text x="345.60" y="415.08" font-size="4.7" text-anchor="start" fill="#1c1c1c" >G-B</text>
<text x="78.20" y="422.41" font-size="4.7" text-anchor="middle" fill="#1c1c1c" >18</text>
<text x="87.00" y="422.41" font-size="4.7" text-anchor="start" fill="#1c1c1c" >131-01</text>
<text x="111.20" y="422.41" font-size="4.7" text-anchor="start" fill="#1c1c1c" >CN.016</text>
<text x="134.20" y="422.41" font-size="4.7" text-anchor="start" fill="#1c1c1c" >Lift arm raise pilot pressure sensor</text>
<text x="213.50" y="422.41" font-size="4.7" text-anchor="middle" fill="#1c1c1c" >2</text>
<text x="219.30" y="422.41" font-size="4.7" text-anchor="start" fill="#1c1c1c" >CN.001</text>
<text x="242.30" y="422.41" font-size="4.7" text-anchor="start" fill="#1c1c1c" >Center harness 1</text>
<text x="318.00" y="422.41" font-size="4.7" text-anchor="middle" fill="#1c1c1c" >5</text>
<text x="326.50" y="422.41" font-size="4.7" text-anchor="start" fill="#1c1c1c" >1.25</text>
<text x="345.60" y="422.41" font-size="4.7" text-anchor="start" fill="#1c1c1c" >R-L</text>
<text x="78.20" y="429.74" font-size="4.7" text-anchor="middle" fill="#1c1c1c" >19</text>
<text x="87.00" y="429.74" font-size="4.7" text-anchor="start" fill="#1c1c1c" >138-01</text>
<text x="111.20" y="429.74" font-size="4.7" text-anchor="start" fill="#1c1c1c" >CN.001</text>
<text x="134.20" y="429.74" font-size="4.7" text-anchor="start" fill="#1c1c1c" >Center harness 1</text>
<text x="213.50" y="429.74" font-size="4.7" text-anchor="middle" fill="#1c1c1c" >7</text>
<text x="219.30" y="429.74" font-size="4.7" text-anchor="start" fill="#1c1c1c" >CN.008</text>
<text x="242.30" y="429.74" font-size="4.7" text-anchor="start" fill="#1c1c1c" >Lift arm kickout proximity SW</text>
<text x="318.00" y="429.74" font-size="4.7" text-anchor="middle" fill="#1c1c1c" >5</text>
<text x="326.50" y="429.74" font-size="4.7" text-anchor="start" fill="#1c1c1c" >1.25</text>
<text x="345.60" y="429.74" font-size="4.7" text-anchor="start" fill="#1c1c1c" >Y</text>
<text x="78.20" y="437.07" font-size="4.7" text-anchor="middle" fill="#1c1c1c" >20</text>
<text x="87.00" y="437.07" font-size="4.7" text-anchor="start" fill="#1c1c1c" >141-01</text>
<text x="111.20" y="437.07" font-size="4.7" text-anchor="start" fill="#1c1c1c" >CN.014</text>
<text x="134.20" y="437.07" font-size="4.7" text-anchor="start" fill="#1c1c1c" >Axle oil temperature sensor</text>
<text x="213.50" y="437.07" font-size="4.7" text-anchor="middle" fill="#1c1c1c" >1</text>
<text x="219.30" y="437.07" font-size="4.7" text-anchor="start" fill="#1c1c1c" >CN.002</text>
<text x="242.30" y="437.07" font-size="4.7" text-anchor="start" fill="#1c1c1c" >Center harness 2</text>
<text x="318.00" y="437.07" font-size="4.7" text-anchor="middle" fill="#1c1c1c" >13</text>
<text x="326.50" y="437.07" font-size="4.7" text-anchor="start" fill="#1c1c1c" >1.25</text>
<text x="345.60" y="437.07" font-size="4.7" text-anchor="start" fill="#1c1c1c" >Br</text>
<text x="78.20" y="444.40" font-size="4.7" text-anchor="middle" fill="#1c1c1c" >21</text>
<text x="87.00" y="444.40" font-size="4.7" text-anchor="start" fill="#1c1c1c" >208-01</text>
<text x="111.20" y="444.40" font-size="4.7" text-anchor="start" fill="#1c1c1c" >CN.008</text>
<text x="134.20" y="444.40" font-size="4.7" text-anchor="start" fill="#1c1c1c" >Lift arm kickout proximity SW</text>
<text x="213.50" y="444.40" font-size="4.7" text-anchor="middle" fill="#1c1c1c" >3</text>
<text x="219.30" y="444.40" font-size="4.7" text-anchor="start" fill="#1c1c1c" >CN.002</text>
<text x="242.30" y="444.40" font-size="4.7" text-anchor="start" fill="#1c1c1c" >Center harness 2</text>
<text x="318.00" y="444.40" font-size="4.7" text-anchor="middle" fill="#1c1c1c" >9</text>
<text x="326.50" y="444.40" font-size="4.7" text-anchor="start" fill="#1c1c1c" >1.25</text>
<text x="345.60" y="444.40" font-size="4.7" text-anchor="start" fill="#1c1c1c" >R-G</text>
<text x="78.20" y="451.73" font-size="4.7" text-anchor="middle" fill="#1c1c1c" >22</text>
<text x="87.00" y="451.73" font-size="4.7" text-anchor="start" fill="#1c1c1c" >215-01</text>
<text x="111.20" y="451.73" font-size="4.7" text-anchor="start" fill="#1c1c1c" >CN.022</text>
<text x="134.20" y="451.73" font-size="4.7" text-anchor="start" fill="#1c1c1c" >Bucket leveler proximity SW</text>
<text x="213.50" y="451.73" font-size="4.7" text-anchor="middle" fill="#1c1c1c" >1</text>
<text x="219.30" y="451.73" font-size="4.7" text-anchor="start" fill="#1c1c1c" >CN.002</text>
<text x="242.30" y="451.73" font-size="4.7" text-anchor="start" fill="#1c1c1c" >Center harness 2</text>
<text x="318.00" y="451.73" font-size="4.7" text-anchor="middle" fill="#1c1c1c" >11</text>
<text x="326.50" y="451.73" font-size="4.7" text-anchor="start" fill="#1c1c1c" >1.25</text>
<text x="345.60" y="451.73" font-size="4.7" text-anchor="start" fill="#1c1c1c" >L-R</text>
<text x="78.20" y="459.06" font-size="4.7" text-anchor="middle" fill="#1c1c1c" >23</text>
<text x="87.00" y="459.06" font-size="4.7" text-anchor="start" fill="#1c1c1c" >331-01</text>
<text x="111.20" y="459.06" font-size="4.7" text-anchor="start" fill="#1c1c1c" >CN.003</text>
<text x="134.20" y="459.06" font-size="4.7" text-anchor="start" fill="#1c1c1c" >Ride control solenoid</text>
<text x="213.50" y="459.06" font-size="4.7" text-anchor="middle" fill="#1c1c1c" >1</text>
<text x="219.30" y="459.06" font-size="4.7" text-anchor="start" fill="#1c1c1c" >CN.002</text>
<text x="242.30" y="459.06" font-size="4.7" text-anchor="start" fill="#1c1c1c" >Center harness 2</text>
<text x="318.00" y="459.06" font-size="4.7" text-anchor="middle" fill="#1c1c1c" >1</text>
<text x="326.50" y="459.06" font-size="4.7" text-anchor="start" fill="#1c1c1c" >1.25</text>
<text x="345.60" y="459.06" font-size="4.7" text-anchor="start" fill="#1c1c1c" >Y-B</text>
<text x="78.20" y="466.39" font-size="4.7" text-anchor="middle" fill="#1c1c1c" >24</text>
<text x="87.00" y="466.39" font-size="4.7" text-anchor="start" fill="#1c1c1c" >332-01</text>
<text x="111.20" y="466.39" font-size="4.7" text-anchor="start" fill="#1c1c1c" >CN.003</text>
<text x="134.20" y="466.39" font-size="4.7" text-anchor="start" fill="#1c1c1c" >Ride control solenoid</text>
<text x="213.50" y="466.39" font-size="4.7" text-anchor="middle" fill="#1c1c1c" >2</text>
<text x="219.30" y="466.39" font-size="4.7" text-anchor="start" fill="#1c1c1c" >CN.002</text>
<text x="242.30" y="466.39" font-size="4.7" text-anchor="start" fill="#1c1c1c" >Center harness 2</text>
<text x="318.00" y="466.39" font-size="4.7" text-anchor="middle" fill="#1c1c1c" >2</text>
<text x="326.50" y="466.39" font-size="4.7" text-anchor="start" fill="#1c1c1c" >1.25</text>
<text x="345.60" y="466.39" font-size="4.7" text-anchor="start" fill="#1c1c1c" >W-B</text>
<text x="78.20" y="473.72" font-size="4.7" text-anchor="middle" fill="#1c1c1c" >25</text>
<text x="87.00" y="473.72" font-size="4.7" text-anchor="start" fill="#1c1c1c" >341-01</text>
<text x="111.20" y="473.72" font-size="4.7" text-anchor="start" fill="#1c1c1c" >CN.001</text>
<text x="134.20" y="473.72" font-size="4.7" text-anchor="start" fill="#1c1c1c" >Center harness 1</text>
<text x="213.50" y="473.72" font-size="4.7" text-anchor="middle" fill="#1c1c1c" >1</text>
<text x="219.30" y="473.72" font-size="4.7" text-anchor="start" fill="#1c1c1c" >CN.018</text>
<text x="242.30" y="473.72" font-size="4.7" text-anchor="start" fill="#1c1c1c" >Quick coupler (opt)</text>
<text x="318.00" y="473.72" font-size="4.7" text-anchor="middle" fill="#1c1c1c" >3</text>
<text x="326.50" y="473.72" font-size="4.7" text-anchor="start" fill="#1c1c1c" >1.25</text>
<text x="345.60" y="473.72" font-size="4.7" text-anchor="start" fill="#1c1c1c" >L-R</text>
<text x="78.20" y="481.05" font-size="4.7" text-anchor="middle" fill="#1c1c1c" >26</text>
<text x="87.00" y="481.05" font-size="4.7" text-anchor="start" fill="#1c1c1c" >342-01</text>
<text x="111.20" y="481.05" font-size="4.7" text-anchor="start" fill="#1c1c1c" >CN.001</text>
<text x="134.20" y="481.05" font-size="4.7" text-anchor="start" fill="#1c1c1c" >Center harness 1</text>
<text x="213.50" y="481.05" font-size="4.7" text-anchor="middle" fill="#1c1c1c" >2</text>
<text x="219.30" y="481.05" font-size="4.7" text-anchor="start" fill="#1c1c1c" >CN.018</text>
<text x="242.30" y="481.05" font-size="4.7" text-anchor="start" fill="#1c1c1c" >Quick coupler (opt)</text>
<text x="318.00" y="481.05" font-size="4.7" text-anchor="middle" fill="#1c1c1c" >1</text>
<text x="326.50" y="481.05" font-size="4.7" text-anchor="start" fill="#1c1c1c" >1.25</text>
<text x="345.60" y="481.05" font-size="4.7" text-anchor="start" fill="#1c1c1c" >G-B</text>
<text x="78.20" y="488.38" font-size="4.7" text-anchor="middle" fill="#1c1c1c" >27</text>
<text x="87.00" y="488.38" font-size="4.7" text-anchor="start" fill="#1c1c1c" >501-01</text>
<text x="111.20" y="488.38" font-size="4.7" text-anchor="start" fill="#1c1c1c" >CN.019</text>
<text x="134.20" y="488.38" font-size="4.7" text-anchor="start" fill="#1c1c1c" >Front combination lamp (turn R)</text>
<text x="213.50" y="488.38" font-size="4.7" text-anchor="middle" fill="#1c1c1c" >1</text>
<text x="219.30" y="488.38" font-size="4.7" text-anchor="start" fill="#1c1c1c" >CN.002</text>
<text x="242.30" y="488.38" font-size="4.7" text-anchor="start" fill="#1c1c1c" >Center harness 2</text>
<text x="318.00" y="488.38" font-size="4.7" text-anchor="middle" fill="#1c1c1c" >8</text>
<text x="326.50" y="488.38" font-size="4.7" text-anchor="start" fill="#1c1c1c" >1.25</text>
<text x="345.60" y="488.38" font-size="4.7" text-anchor="start" fill="#1c1c1c" >L-R</text>
<text x="78.20" y="495.71" font-size="4.7" text-anchor="middle" fill="#1c1c1c" >28</text>
<text x="87.00" y="495.71" font-size="4.7" text-anchor="start" fill="#1c1c1c" >502-01</text>
<text x="111.20" y="495.71" font-size="4.7" text-anchor="start" fill="#1c1c1c" >CN.004</text>
<text x="134.20" y="495.71" font-size="4.7" text-anchor="start" fill="#1c1c1c" >Front combination lamp (turn L)</text>
<text x="213.50" y="495.71" font-size="4.7" text-anchor="middle" fill="#1c1c1c" >1</text>
<text x="219.30" y="495.71" font-size="4.7" text-anchor="start" fill="#1c1c1c" >CN.002</text>
<text x="242.30" y="495.71" font-size="4.7" text-anchor="start" fill="#1c1c1c" >Center harness 2</text>
<text x="318.00" y="495.71" font-size="4.7" text-anchor="middle" fill="#1c1c1c" >4</text>
<text x="326.50" y="495.71" font-size="4.7" text-anchor="start" fill="#1c1c1c" >1.25</text>
<text x="345.60" y="495.71" font-size="4.7" text-anchor="start" fill="#1c1c1c" >R-L</text>
<text x="78.20" y="503.04" font-size="4.7" text-anchor="middle" fill="#1c1c1c" >29</text>
<text x="87.00" y="503.04" font-size="4.7" text-anchor="start" fill="#1c1c1c" >511-01</text>
<text x="111.20" y="503.04" font-size="4.7" text-anchor="start" fill="#1c1c1c" >JN.A21</text>
<text x="219.30" y="503.04" font-size="4.7" text-anchor="start" fill="#1c1c1c" >CN.002</text>
<text x="242.30" y="503.04" font-size="4.7" text-anchor="start" fill="#1c1c1c" >Center harness 2</text>
<text x="318.00" y="503.04" font-size="4.7" text-anchor="middle" fill="#1c1c1c" >6</text>
<text x="326.50" y="503.04" font-size="4.7" text-anchor="start" fill="#1c1c1c" >1.25</text>
<text x="345.60" y="503.04" font-size="4.7" text-anchor="start" fill="#1c1c1c" >G-Y</text>
<text x="78.20" y="510.37" font-size="4.7" text-anchor="middle" fill="#1c1c1c" >30</text>
<text x="87.00" y="510.37" font-size="4.7" text-anchor="start" fill="#1c1c1c" >511-02</text>
<text x="111.20" y="510.37" font-size="4.7" text-anchor="start" fill="#1c1c1c" >JN.A21</text>
<text x="219.30" y="510.37" font-size="4.7" text-anchor="start" fill="#1c1c1c" >CN.007</text>
<text x="242.30" y="510.37" font-size="4.7" text-anchor="start" fill="#1c1c1c" >Head light (L)</text>
<text x="318.00" y="510.37" font-size="4.7" text-anchor="middle" fill="#1c1c1c" >2</text>
<text x="326.50" y="510.37" font-size="4.7" text-anchor="start" fill="#1c1c1c" >1.25</text>
<text x="345.60" y="510.37" font-size="4.7" text-anchor="start" fill="#1c1c1c" >G-Y</text>
<text x="78.20" y="517.70" font-size="4.7" text-anchor="middle" fill="#1c1c1c" >31</text>
<text x="87.00" y="517.70" font-size="4.7" text-anchor="start" fill="#1c1c1c" >511-03</text>
<text x="111.20" y="517.70" font-size="4.7" text-anchor="start" fill="#1c1c1c" >JN.A21</text>
<text x="219.30" y="517.70" font-size="4.7" text-anchor="start" fill="#1c1c1c" >CN.017</text>
<text x="242.30" y="517.70" font-size="4.7" text-anchor="start" fill="#1c1c1c" >Head light (R)</text>
<text x="318.00" y="517.70" font-size="4.7" text-anchor="middle" fill="#1c1c1c" >2</text>
<text x="326.50" y="517.70" font-size="4.7" text-anchor="start" fill="#1c1c1c" >1.25</text>
<text x="345.60" y="517.70" font-size="4.7" text-anchor="start" fill="#1c1c1c" >G-Y</text>
<text x="78.20" y="525.03" font-size="4.7" text-anchor="middle" fill="#1c1c1c" >32</text>
<text x="87.00" y="525.03" font-size="4.7" text-anchor="start" fill="#1c1c1c" >512-01</text>
<text x="111.20" y="525.03" font-size="4.7" text-anchor="start" fill="#1c1c1c" >JN.A20</text>
<text x="219.30" y="525.03" font-size="4.7" text-anchor="start" fill="#1c1c1c" >CN.002</text>
<text x="242.30" y="525.03" font-size="4.7" text-anchor="start" fill="#1c1c1c" >Center harness 2</text>
<text x="318.00" y="525.03" font-size="4.7" text-anchor="middle" fill="#1c1c1c" >5</text>
<text x="326.50" y="525.03" font-size="4.7" text-anchor="start" fill="#1c1c1c" >1.25</text>
<text x="345.60" y="525.03" font-size="4.7" text-anchor="start" fill="#1c1c1c" >Y-B</text>
<text x="78.20" y="532.36" font-size="4.7" text-anchor="middle" fill="#1c1c1c" >33</text>
<text x="87.00" y="532.36" font-size="4.7" text-anchor="start" fill="#1c1c1c" >512-02</text>
<text x="111.20" y="532.36" font-size="4.7" text-anchor="start" fill="#1c1c1c" >CN.007</text>
<text x="134.20" y="532.36" font-size="4.7" text-anchor="start" fill="#1c1c1c" >Head light (L)</text>
<text x="213.50" y="532.36" font-size="4.7" text-anchor="middle" fill="#1c1c1c" >1</text>
<text x="219.30" y="532.36" font-size="4.7" text-anchor="start" fill="#1c1c1c" >JN.A20</text>
<text x="326.50" y="532.36" font-size="4.7" text-anchor="start" fill="#1c1c1c" >1.25</text>
<text x="345.60" y="532.36" font-size="4.7" text-anchor="start" fill="#1c1c1c" >Y-B</text>
<text x="78.20" y="539.69" font-size="4.7" text-anchor="middle" fill="#1c1c1c" >34</text>
<text x="87.00" y="539.69" font-size="4.7" text-anchor="start" fill="#1c1c1c" >512-03</text>
<text x="111.20" y="539.69" font-size="4.7" text-anchor="start" fill="#1c1c1c" >JN.A20</text>
<text x="219.30" y="539.69" font-size="4.7" text-anchor="start" fill="#1c1c1c" >CN.017</text>
<text x="242.30" y="539.69" font-size="4.7" text-anchor="start" fill="#1c1c1c" >Head light (R)</text>
<text x="318.00" y="539.69" font-size="4.7" text-anchor="middle" fill="#1c1c1c" >1</text>
<text x="326.50" y="539.69" font-size="4.7" text-anchor="start" fill="#1c1c1c" >1.25</text>
<text x="345.60" y="539.69" font-size="4.7" text-anchor="start" fill="#1c1c1c" >Y-B</text>
<text x="78.20" y="547.02" font-size="4.7" text-anchor="middle" fill="#1c1c1c" >35</text>
<text x="87.00" y="547.02" font-size="4.7" text-anchor="start" fill="#1c1c1c" >515-01</text>
<text x="111.20" y="547.02" font-size="4.7" text-anchor="start" fill="#1c1c1c" >JN.A22</text>
<text x="219.30" y="547.02" font-size="4.7" text-anchor="start" fill="#1c1c1c" >CN.002</text>
<text x="242.30" y="547.02" font-size="4.7" text-anchor="start" fill="#1c1c1c" >Center harness 2</text>
<text x="318.00" y="547.02" font-size="4.7" text-anchor="middle" fill="#1c1c1c" >3</text>
<text x="326.50" y="547.02" font-size="4.7" text-anchor="start" fill="#1c1c1c" >1.25</text>
<text x="345.60" y="547.02" font-size="4.7" text-anchor="start" fill="#1c1c1c" >P</text>
<text x="78.20" y="554.35" font-size="4.7" text-anchor="middle" fill="#1c1c1c" >36</text>
<text x="87.00" y="554.35" font-size="4.7" text-anchor="start" fill="#1c1c1c" >515-02</text>
<text x="111.20" y="554.35" font-size="4.7" text-anchor="start" fill="#1c1c1c" >JN.A22</text>
<text x="219.30" y="554.35" font-size="4.7" text-anchor="start" fill="#1c1c1c" >CN.020</text>
<text x="242.30" y="554.35" font-size="4.7" text-anchor="start" fill="#1c1c1c" >Front combination lamp (width R)</text>
<text x="318.00" y="554.35" font-size="4.7" text-anchor="middle" fill="#1c1c1c" >1</text>
<text x="326.50" y="554.35" font-size="4.7" text-anchor="start" fill="#1c1c1c" >1.25</text>
<text x="345.60" y="554.35" font-size="4.7" text-anchor="start" fill="#1c1c1c" >P</text>
<text x="78.20" y="561.68" font-size="4.7" text-anchor="middle" fill="#1c1c1c" >37</text>
<text x="87.00" y="561.68" font-size="4.7" text-anchor="start" fill="#1c1c1c" >515-03</text>
<text x="111.20" y="561.68" font-size="4.7" text-anchor="start" fill="#1c1c1c" >JN.A22</text>
<text x="219.30" y="561.68" font-size="4.7" text-anchor="start" fill="#1c1c1c" >CN.005</text>
<text x="242.30" y="561.68" font-size="4.7" text-anchor="start" fill="#1c1c1c" >Front combination lamp (width L)</text>
<text x="318.00" y="561.68" font-size="4.7" text-anchor="middle" fill="#1c1c1c" >1</text>
<text x="326.50" y="561.68" font-size="4.7" text-anchor="start" fill="#1c1c1c" >1.25</text>
<text x="345.60" y="561.68" font-size="4.7" text-anchor="start" fill="#1c1c1c" >P</text>
<text x="78.20" y="569.01" font-size="4.7" text-anchor="middle" fill="#1c1c1c" >38</text>
<text x="87.00" y="569.01" font-size="4.7" text-anchor="start" fill="#1c1c1c" >527-01</text>
<text x="111.20" y="569.01" font-size="4.7" text-anchor="start" fill="#1c1c1c" >JN.A24</text>
<text x="219.30" y="569.01" font-size="4.7" text-anchor="start" fill="#1c1c1c" >CN.002</text>
<text x="242.30" y="569.01" font-size="4.7" text-anchor="start" fill="#1c1c1c" >Center harness 2</text>
<text x="318.00" y="569.01" font-size="4.7" text-anchor="middle" fill="#1c1c1c" >7</text>
<text x="326.50" y="569.01" font-size="4.7" text-anchor="start" fill="#1c1c1c" >1.25</text>
<text x="345.60" y="569.01" font-size="4.7" text-anchor="start" fill="#1c1c1c" >W-B</text>
<text x="78.20" y="576.34" font-size="4.7" text-anchor="middle" fill="#1c1c1c" >39</text>
<text x="87.00" y="576.34" font-size="4.7" text-anchor="start" fill="#1c1c1c" >527-02</text>
<text x="111.20" y="576.34" font-size="4.7" text-anchor="start" fill="#1c1c1c" >CN.011</text>
<text x="134.20" y="576.34" font-size="4.7" text-anchor="start" fill="#1c1c1c" >Horn (low)</text>
<text x="213.50" y="576.34" font-size="4.7" text-anchor="middle" fill="#1c1c1c" >1</text>
<text x="219.30" y="576.34" font-size="4.7" text-anchor="start" fill="#1c1c1c" >JN.A24</text>
<text x="326.50" y="576.34" font-size="4.7" text-anchor="start" fill="#1c1c1c" >1.25</text>
<text x="345.60" y="576.34" font-size="4.7" text-anchor="start" fill="#1c1c1c" >W-B</text>
<text x="78.20" y="583.67" font-size="4.7" text-anchor="middle" fill="#1c1c1c" >40</text>
<text x="87.00" y="583.67" font-size="4.7" text-anchor="start" fill="#1c1c1c" >527-03</text>
<text x="111.20" y="583.67" font-size="4.7" text-anchor="start" fill="#1c1c1c" >JN.A24</text>
<text x="219.30" y="583.67" font-size="4.7" text-anchor="start" fill="#1c1c1c" >CN.013</text>
<text x="242.30" y="583.67" font-size="4.7" text-anchor="start" fill="#1c1c1c" >Horn (high)</text>
<text x="318.00" y="583.67" font-size="4.7" text-anchor="middle" fill="#1c1c1c" >1</text>
<text x="326.50" y="583.67" font-size="4.7" text-anchor="start" fill="#1c1c1c" >1.25</text>
<text x="345.60" y="583.67" font-size="4.7" text-anchor="start" fill="#1c1c1c" >W-B</text>
<text x="872.80" y="617.00" font-size="8.4" text-anchor="middle" fill="#000" stroke="#000" stroke-width="0.25">- 5 -</text>
</svg></body></html>
